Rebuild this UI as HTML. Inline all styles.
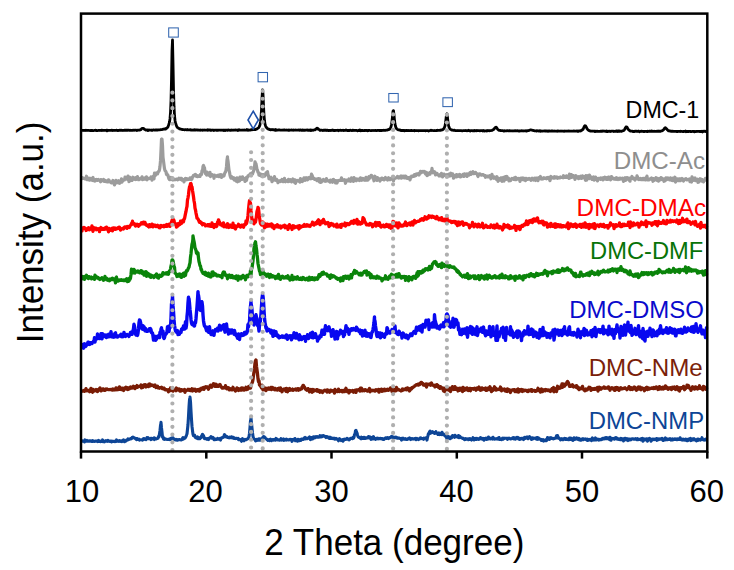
<!DOCTYPE html>
<html><head><meta charset="utf-8"><style>
html,body{margin:0;padding:0;background:#fff;width:734px;height:570px;overflow:hidden}
svg{position:absolute;left:0;top:0}
text{font-family:"Liberation Sans",sans-serif}
</style></head><body>
<svg width="734" height="570" viewBox="0 0 734 570">
<path d="M82.0 130.5L82.5 130.4 83.0 130.4 83.5 130.5 84.0 130.4 84.5 130.5 85.0 130.4 85.5 130.5 86.0 130.1 86.5 130.4 87.0 130.5 87.5 130.4 88.0 130.3 88.5 130.3 89.0 130.4 89.5 130.5 90.0 130.6 90.5 130.6 91.0 130.4 91.5 130.3 92.0 130.5 92.5 130.5 93.0 130.7 93.5 130.6 94.0 130.5 94.5 130.4 95.0 130.4 95.5 130.1 96.0 130.6 96.5 130.5 97.0 130.5 97.5 130.6 98.0 130.5 98.5 130.4 99.0 130.5 99.5 130.4 100.0 130.5 100.5 130.4 101.0 130.5 101.5 130.2 102.0 130.2 102.5 130.3 103.0 130.5 103.5 130.4 104.0 130.3 104.5 130.3 105.0 130.4 105.5 130.4 106.0 130.3 106.5 130.2 107.0 130.8 107.5 130.2 108.0 130.4 108.5 130.5 109.0 130.4 109.5 130.4 110.0 130.4 110.5 130.4 111.0 130.4 111.5 130.2 112.0 130.2 112.5 130.5 113.0 130.4 113.5 130.4 114.0 130.5 114.5 130.4 115.0 130.3 115.5 130.4 116.0 130.3 116.5 130.2 117.0 130.3 117.5 130.5 118.0 130.3 118.5 130.5 119.0 130.4 119.5 130.2 120.0 130.2 120.5 130.2 121.0 130.4 121.5 130.2 122.0 130.3 122.5 130.3 123.0 130.5 123.5 130.4 124.0 130.3 124.5 130.2 125.0 130.3 125.5 130.2 126.0 130.2 126.5 130.3 127.0 130.2 127.5 130.3 128.0 130.2 128.5 130.1 129.0 130.3 129.5 130.4 130.0 130.2 130.5 130.3 131.0 130.4 131.5 130.3 132.0 130.3 132.5 130.3 133.0 130.2 133.5 130.1 134.0 130.4 134.5 130.1 135.0 130.1 135.5 130.2 136.0 130.2 136.5 130.3 137.0 130.6 137.5 130.1 138.0 130.1 138.5 130.2 139.0 130.2 139.5 130.1 140.0 129.9 140.5 129.8 141.0 129.5 141.5 128.9 142.0 128.3 142.5 128.4 143.0 128.3 143.5 128.3 144.0 128.9 144.5 129.3 145.0 129.6 145.5 129.9 146.0 130.1 146.5 130.0 147.0 130.1 147.5 129.9 148.0 130.5 148.5 130.2 149.0 129.9 149.5 130.0 150.0 130.1 150.5 130.1 151.0 130.2 151.5 130.3 152.0 130.1 152.5 130.3 153.0 130.0 153.5 129.8 154.0 130.0 154.5 130.1 155.0 130.0 155.5 130.1 156.0 129.9 156.5 130.0 157.0 130.0 157.5 130.1 158.0 129.9 158.5 129.9 159.0 129.8 159.5 129.8 160.0 129.8 160.5 129.7 161.0 129.7 161.5 129.6 162.0 129.6 162.5 129.5 163.0 129.2 163.5 129.2 164.0 129.0 164.5 129.0 165.0 129.0 165.5 129.1 166.0 128.4 166.5 128.3 167.0 127.9 167.5 127.6 168.0 126.8 168.5 125.4 169.0 124.0 169.5 122.1 170.0 118.7 170.5 112.3 171.0 100.5 171.5 79.5 172.0 51.1 172.4 42.2 172.5 40.0 173.0 62.7 173.5 89.4 174.0 106.2 174.5 115.5 175.0 120.2 175.5 123.0 176.0 124.3 176.5 125.9 177.0 126.9 177.5 127.5 178.0 127.7 178.5 128.2 179.0 128.3 179.5 128.9 180.0 128.9 180.5 129.1 181.0 129.2 181.5 129.3 182.0 129.4 182.5 129.6 183.0 129.6 183.5 129.7 184.0 129.6 184.5 129.9 185.0 129.7 185.5 129.7 186.0 129.7 186.5 129.8 187.0 129.9 187.5 129.5 188.0 129.9 188.5 129.8 189.0 129.9 189.5 129.9 190.0 129.8 190.5 129.6 191.0 130.2 191.5 130.0 192.0 130.1 192.5 130.2 193.0 129.9 193.5 130.2 194.0 129.9 194.5 129.6 195.0 130.1 195.5 130.1 196.0 129.8 196.5 129.8 197.0 130.1 197.5 129.9 198.0 130.2 198.5 130.0 199.0 130.1 199.5 130.1 200.0 130.3 200.5 130.0 201.0 130.2 201.5 130.1 202.0 130.1 202.5 130.3 203.0 130.0 203.5 130.2 204.0 130.1 204.5 130.0 205.0 130.2 205.5 130.2 206.0 130.1 206.5 130.1 207.0 130.2 207.5 129.7 208.0 130.3 208.5 130.1 209.0 129.8 209.5 130.1 210.0 130.2 210.5 130.0 211.0 130.5 211.5 130.1 212.0 130.1 212.5 130.0 213.0 130.1 213.5 130.2 214.0 130.5 214.5 130.1 215.0 130.1 215.5 130.1 216.0 130.2 216.5 130.3 217.0 130.2 217.5 130.2 218.0 130.3 218.5 130.2 219.0 130.2 219.5 130.1 220.0 130.2 220.5 130.1 221.0 130.3 221.5 130.1 222.0 130.1 222.5 130.2 223.0 130.3 223.5 130.5 224.0 130.0 224.5 130.2 225.0 130.5 225.5 130.2 226.0 130.3 226.5 130.1 227.0 130.1 227.5 130.4 228.0 130.0 228.5 130.0 229.0 130.2 229.5 130.1 230.0 130.4 230.5 130.1 231.0 130.3 231.5 130.0 232.0 130.1 232.5 130.1 233.0 130.3 233.5 130.1 234.0 130.0 234.5 130.1 235.0 130.0 235.5 130.0 236.0 130.2 236.5 130.2 237.0 130.0 237.5 130.2 238.0 130.5 238.5 130.0 239.0 129.7 239.5 130.0 240.0 130.1 240.5 130.2 241.0 130.2 241.5 130.1 242.0 130.2 242.5 130.2 243.0 130.0 243.5 130.1 244.0 130.0 244.5 130.0 245.0 130.1 245.5 130.1 246.0 130.0 246.5 130.2 247.0 129.6 247.5 130.0 248.0 130.3 248.5 130.0 249.0 130.0 249.5 130.1 250.0 130.2 250.5 129.9 251.0 129.8 251.5 129.6 252.0 129.8 252.5 129.7 253.0 129.5 253.5 129.7 254.0 129.6 254.5 129.7 255.0 129.3 255.5 129.5 256.0 129.2 256.5 129.1 257.0 128.9 257.5 128.6 258.0 128.1 258.5 127.8 259.0 127.2 259.5 126.2 260.0 124.7 260.5 122.0 261.0 117.6 261.5 109.7 262.0 98.3 262.5 89.8 262.6 90.4 263.0 93.8 263.5 105.4 264.0 114.8 264.5 120.8 265.0 124.0 265.5 125.7 266.0 126.9 266.5 127.5 267.0 128.1 267.5 128.7 268.0 128.9 268.5 129.1 269.0 129.2 269.5 129.6 270.0 129.6 270.5 129.9 271.0 129.5 271.5 129.6 272.0 129.8 272.5 129.7 273.0 129.7 273.5 129.6 274.0 130.1 274.5 130.1 275.0 130.3 275.5 129.6 276.0 130.2 276.5 129.9 277.0 130.0 277.5 130.2 278.0 130.0 278.5 130.0 279.0 129.9 279.5 130.0 280.0 130.0 280.5 130.1 281.0 130.1 281.5 130.1 282.0 130.1 282.5 130.0 283.0 130.1 283.5 130.0 284.0 130.0 284.5 130.0 285.0 130.0 285.5 130.1 286.0 130.1 286.5 130.0 287.0 130.2 287.5 130.1 288.0 130.3 288.5 130.3 289.0 130.0 289.5 130.3 290.0 130.1 290.5 130.1 291.0 130.2 291.5 129.9 292.0 130.0 292.5 130.1 293.0 130.3 293.5 130.0 294.0 130.2 294.5 130.1 295.0 130.2 295.5 130.0 296.0 130.2 296.5 130.2 297.0 130.1 297.5 130.1 298.0 130.2 298.5 129.9 299.0 130.2 299.5 130.3 300.0 129.8 300.5 129.8 301.0 130.3 301.5 130.2 302.0 130.2 302.5 130.3 303.0 130.0 303.5 130.4 304.0 130.2 304.5 130.2 305.0 130.3 305.5 130.2 306.0 130.1 306.5 130.0 307.0 130.2 307.5 129.9 308.0 130.3 308.5 130.1 309.0 130.3 309.5 130.4 310.0 129.9 310.5 129.9 311.0 130.5 311.5 130.2 312.0 130.1 312.5 130.1 313.0 130.4 313.5 130.1 314.0 130.0 314.5 129.8 315.0 129.8 315.5 129.4 316.0 129.2 316.5 128.5 317.0 128.2 317.5 128.3 318.0 128.6 318.5 129.4 319.0 129.5 319.5 129.7 320.0 130.4 320.5 130.3 321.0 130.2 321.5 130.1 322.0 130.3 322.5 130.3 323.0 130.6 323.5 130.1 324.0 130.3 324.5 130.2 325.0 130.2 325.5 130.3 326.0 130.1 326.5 130.5 327.0 130.1 327.5 130.2 328.0 130.4 328.5 130.6 329.0 130.3 329.5 130.5 330.0 130.4 330.5 130.5 331.0 130.5 331.5 130.3 332.0 130.3 332.5 130.0 333.0 130.1 333.5 130.5 334.0 130.3 334.5 130.4 335.0 130.6 335.5 130.3 336.0 130.3 336.5 130.4 337.0 130.3 337.5 130.3 338.0 130.2 338.5 130.7 339.0 130.3 339.5 130.4 340.0 130.3 340.5 130.1 341.0 130.4 341.5 130.5 342.0 130.4 342.5 130.4 343.0 130.1 343.5 130.5 344.0 130.5 344.5 130.3 345.0 130.4 345.5 130.3 346.0 130.0 346.5 130.3 347.0 130.3 347.5 130.6 348.0 130.5 348.5 130.5 349.0 130.7 349.5 130.4 350.0 130.2 350.5 130.2 351.0 130.4 351.5 130.5 352.0 130.7 352.5 130.3 353.0 130.1 353.5 130.5 354.0 130.4 354.5 130.5 355.0 130.4 355.5 130.4 356.0 130.5 356.5 130.4 357.0 130.5 357.5 130.8 358.0 130.5 358.5 130.4 359.0 130.6 359.5 130.1 360.0 130.6 360.5 130.2 361.0 130.8 361.5 130.6 362.0 130.3 362.5 130.5 363.0 130.5 363.5 130.6 364.0 130.5 364.5 130.5 365.0 130.3 365.5 130.5 366.0 130.4 366.5 130.4 367.0 130.6 367.5 130.8 368.0 130.4 368.5 130.5 369.0 130.5 369.5 130.4 370.0 130.5 370.5 130.6 371.0 130.7 371.5 130.5 372.0 130.6 372.5 130.5 373.0 130.4 373.5 130.5 374.0 130.6 374.5 130.5 375.0 130.4 375.5 130.5 376.0 130.4 376.5 130.7 377.0 130.5 377.5 130.4 378.0 130.5 378.5 130.4 379.0 130.5 379.5 130.3 380.0 130.6 380.5 130.4 381.0 130.6 381.5 130.6 382.0 130.4 382.5 130.3 383.0 130.4 383.5 130.3 384.0 130.2 384.5 130.4 385.0 130.3 385.5 130.3 386.0 130.2 386.5 130.2 387.0 130.2 387.5 130.0 388.0 129.7 388.5 129.6 389.0 129.4 389.5 129.3 390.0 128.7 390.5 127.9 391.0 126.7 391.5 124.5 392.0 121.1 392.5 116.5 393.0 111.2 393.3 110.7 393.5 110.6 394.0 114.8 394.5 120.3 395.0 124.1 395.5 126.3 396.0 127.7 396.5 128.7 397.0 129.1 397.5 129.4 398.0 129.7 398.5 129.9 399.0 130.0 399.5 129.8 400.0 130.1 400.5 130.3 401.0 130.6 401.5 130.4 402.0 130.4 402.5 130.6 403.0 130.3 403.5 130.5 404.0 130.5 404.5 130.9 405.0 130.5 405.5 130.7 406.0 130.4 406.5 130.6 407.0 130.5 407.5 130.5 408.0 130.6 408.5 130.5 409.0 130.5 409.5 130.7 410.0 130.7 410.5 130.7 411.0 130.3 411.5 130.4 412.0 130.7 412.5 130.7 413.0 130.7 413.5 130.7 414.0 130.5 414.5 130.8 415.0 130.7 415.5 130.6 416.0 130.5 416.5 130.6 417.0 130.6 417.5 130.7 418.0 130.7 418.5 130.8 419.0 130.7 419.5 130.6 420.0 130.6 420.5 130.6 421.0 130.6 421.5 130.6 422.0 130.7 422.5 130.6 423.0 130.6 423.5 130.7 424.0 130.6 424.5 130.6 425.0 130.7 425.5 130.8 426.0 130.7 426.5 130.7 427.0 130.7 427.5 130.6 428.0 130.8 428.5 131.0 429.0 130.7 429.5 130.7 430.0 130.6 430.5 130.5 431.0 130.2 431.5 130.5 432.0 130.4 432.5 130.5 433.0 130.6 433.5 130.6 434.0 130.7 434.5 130.5 435.0 130.6 435.5 130.6 436.0 130.7 436.5 130.4 437.0 130.5 437.5 130.2 438.0 130.4 438.5 130.4 439.0 130.4 439.5 130.4 440.0 130.1 440.5 130.3 441.0 130.0 441.5 130.1 442.0 129.8 442.5 129.9 443.0 129.5 443.5 128.9 444.0 128.5 444.5 127.2 445.0 126.0 445.5 122.9 446.0 118.6 446.5 114.6 446.8 114.1 447.0 113.8 447.5 117.5 448.0 122.1 448.5 125.4 449.0 127.1 449.5 128.3 450.0 129.1 450.5 129.4 451.0 129.5 451.5 129.9 452.0 130.1 452.5 130.2 453.0 130.2 453.5 130.4 454.0 130.3 454.5 130.1 455.0 130.5 455.5 130.7 456.0 130.7 456.5 130.6 457.0 130.7 457.5 130.7 458.0 130.5 458.5 130.6 459.0 130.7 459.5 130.7 460.0 130.6 460.5 130.6 461.0 130.6 461.5 130.6 462.0 130.9 462.5 130.8 463.0 130.7 463.5 130.7 464.0 130.7 464.5 130.6 465.0 130.6 465.5 130.5 466.0 130.7 466.5 130.7 467.0 130.8 467.5 130.7 468.0 130.7 468.5 130.3 469.0 130.7 469.5 130.8 470.0 130.7 470.5 131.0 471.0 130.6 471.5 130.7 472.0 130.6 472.5 130.8 473.0 130.8 473.5 130.7 474.0 130.8 474.5 130.4 475.0 130.9 475.5 130.6 476.0 130.6 476.5 130.8 477.0 130.4 477.5 130.7 478.0 130.6 478.5 130.7 479.0 130.6 479.5 130.8 480.0 130.8 480.5 130.7 481.0 130.7 481.5 130.7 482.0 130.7 482.5 130.7 483.0 131.0 483.5 130.5 484.0 130.6 484.5 131.1 485.0 130.8 485.5 130.8 486.0 130.8 486.5 130.7 487.0 131.0 487.5 130.8 488.0 130.5 488.5 130.6 489.0 130.8 489.5 130.8 490.0 130.6 490.5 130.6 491.0 130.6 491.5 130.5 492.0 130.4 492.5 129.9 493.0 129.9 493.5 129.6 494.0 129.0 494.5 128.4 495.0 127.8 495.5 127.4 496.0 127.1 496.5 127.6 497.0 128.3 497.5 129.1 498.0 129.5 498.5 130.0 499.0 130.3 499.5 130.4 500.0 130.5 500.5 130.5 501.0 130.7 501.5 130.7 502.0 130.7 502.5 130.7 503.0 130.7 503.5 130.9 504.0 131.1 504.5 130.7 505.0 130.9 505.5 130.9 506.0 130.8 506.5 130.8 507.0 130.7 507.5 130.6 508.0 130.9 508.5 130.9 509.0 130.7 509.5 130.6 510.0 130.8 510.5 130.8 511.0 130.9 511.5 130.8 512.0 130.9 512.5 130.9 513.0 131.0 513.5 130.9 514.0 130.9 514.5 130.8 515.0 130.7 515.5 130.7 516.0 130.9 516.5 130.9 517.0 130.6 517.5 130.8 518.0 130.8 518.5 131.0 519.0 131.0 519.5 130.8 520.0 131.0 520.5 130.8 521.0 130.9 521.5 130.7 522.0 130.8 522.5 130.9 523.0 131.0 523.5 130.8 524.0 130.8 524.5 130.8 525.0 130.8 525.5 130.8 526.0 130.7 526.5 131.2 527.0 131.0 527.5 130.6 528.0 130.7 528.5 130.6 529.0 130.5 529.5 130.2 530.0 130.0 530.5 129.9 531.0 129.9 531.5 130.0 532.0 130.2 532.5 130.3 533.0 130.3 533.5 130.6 534.0 130.6 534.5 130.8 535.0 130.9 535.5 130.8 536.0 131.0 536.5 131.1 537.0 130.7 537.5 130.8 538.0 130.9 538.5 130.9 539.0 131.1 539.5 131.1 540.0 130.7 540.5 131.2 541.0 130.9 541.5 131.0 542.0 131.1 542.5 131.0 543.0 131.1 543.5 131.0 544.0 130.9 544.5 131.0 545.0 130.9 545.5 131.1 546.0 131.1 546.5 130.9 547.0 131.2 547.5 131.0 548.0 131.3 548.5 131.0 549.0 130.8 549.5 131.1 550.0 131.2 550.5 131.2 551.0 131.1 551.5 130.9 552.0 131.1 552.5 131.0 553.0 131.0 553.5 131.2 554.0 131.2 554.5 131.0 555.0 131.1 555.5 131.1 556.0 131.1 556.5 131.1 557.0 131.3 557.5 131.0 558.0 131.0 558.5 131.0 559.0 131.1 559.5 131.2 560.0 131.1 560.5 131.0 561.0 131.1 561.5 131.2 562.0 131.0 562.5 131.1 563.0 131.1 563.5 131.1 564.0 131.4 564.5 131.0 565.0 131.1 565.5 131.1 566.0 131.0 566.5 131.1 567.0 131.1 567.5 131.0 568.0 131.1 568.5 131.1 569.0 130.9 569.5 131.2 570.0 131.1 570.5 131.2 571.0 131.1 571.5 131.2 572.0 131.2 572.5 131.1 573.0 131.2 573.5 131.0 574.0 131.0 574.5 131.2 575.0 131.0 575.5 131.1 576.0 131.1 576.5 131.0 577.0 131.0 577.5 130.9 578.0 131.4 578.5 130.9 579.0 130.9 579.5 131.0 580.0 130.9 580.5 131.0 581.0 130.7 581.5 130.5 582.0 129.9 582.5 129.7 583.0 129.5 583.5 128.3 584.0 127.1 584.5 126.1 585.0 125.7 585.5 125.9 586.0 126.6 586.5 127.5 587.0 128.6 587.5 129.3 588.0 130.0 588.5 130.2 589.0 130.5 589.5 130.8 590.0 130.8 590.5 131.1 591.0 131.1 591.5 131.1 592.0 131.0 592.5 131.1 593.0 131.1 593.5 131.2 594.0 131.1 594.5 131.2 595.0 131.6 595.5 131.2 596.0 131.4 596.5 131.1 597.0 131.4 597.5 131.2 598.0 131.3 598.5 131.3 599.0 131.3 599.5 131.3 600.0 131.4 600.5 131.1 601.0 131.3 601.5 131.2 602.0 131.4 602.5 131.0 603.0 130.9 603.5 131.2 604.0 131.1 604.5 131.2 605.0 131.2 605.5 131.4 606.0 131.3 606.5 130.9 607.0 131.5 607.5 131.5 608.0 131.2 608.5 131.3 609.0 131.4 609.5 131.3 610.0 131.1 610.5 131.5 611.0 131.3 611.5 131.2 612.0 131.2 612.5 131.2 613.0 131.2 613.5 131.2 614.0 131.5 614.5 131.4 615.0 131.2 615.5 131.3 616.0 131.2 616.5 131.3 617.0 130.8 617.5 131.2 618.0 131.5 618.5 131.4 619.0 130.8 619.5 131.2 620.0 131.4 620.5 131.1 621.0 131.2 621.5 131.3 622.0 130.9 622.5 130.9 623.0 130.7 623.5 130.6 624.0 130.3 624.5 129.7 625.0 128.7 625.5 127.7 626.0 126.9 626.5 126.8 627.0 127.2 627.5 128.3 628.0 129.1 628.5 129.7 629.0 130.1 629.5 130.6 630.0 130.7 630.5 131.2 631.0 131.1 631.5 131.2 632.0 131.2 632.5 131.2 633.0 131.5 633.5 131.3 634.0 131.4 634.5 131.6 635.0 131.1 635.5 131.3 636.0 131.1 636.5 131.1 637.0 131.5 637.5 131.4 638.0 131.1 638.5 131.3 639.0 131.2 639.5 131.7 640.0 131.4 640.5 131.4 641.0 131.2 641.5 131.3 642.0 131.2 642.5 131.4 643.0 131.3 643.5 131.4 644.0 131.7 644.5 131.4 645.0 131.3 645.5 131.3 646.0 131.4 646.5 131.3 647.0 131.6 647.5 131.2 648.0 131.5 648.5 131.4 649.0 131.3 649.5 131.1 650.0 131.2 650.5 131.4 651.0 131.3 651.5 131.0 652.0 131.0 652.5 131.4 653.0 131.4 653.5 131.4 654.0 131.2 654.5 131.3 655.0 131.4 655.5 131.3 656.0 131.3 656.5 131.3 657.0 131.2 657.5 131.2 658.0 131.3 658.5 131.2 659.0 131.3 659.5 131.1 660.0 131.4 660.5 131.3 661.0 131.0 661.5 130.9 662.0 130.9 662.5 130.6 663.0 130.2 663.5 129.7 664.0 129.2 664.5 128.3 665.0 127.9 665.5 127.7 666.0 128.4 666.5 128.7 667.0 129.2 667.5 130.0 668.0 130.4 668.5 130.8 669.0 130.9 669.5 131.0 670.0 130.8 670.5 131.2 671.0 131.3 671.5 131.2 672.0 131.4 672.5 131.1 673.0 131.3 673.5 131.3 674.0 131.3 674.5 131.3 675.0 131.4 675.5 131.3 676.0 131.4 676.5 131.4 677.0 131.6 677.5 131.4 678.0 131.5 678.5 131.4 679.0 131.4 679.5 131.5 680.0 131.4 680.5 131.2 681.0 131.5 681.5 131.4 682.0 131.4 682.5 131.5 683.0 131.7 683.5 131.4 684.0 131.5 684.5 131.3 685.0 131.4 685.5 131.0 686.0 131.8 686.5 131.6 687.0 131.4 687.5 131.5 688.0 131.5 688.5 131.5 689.0 131.5 689.5 131.4 690.0 131.5 690.5 131.5 691.0 131.4 691.5 131.7 692.0 131.5 692.5 131.4 693.0 131.3 693.5 131.5 694.0 131.4 694.5 131.8 695.0 131.5 695.5 131.7 696.0 131.4 696.5 131.4 697.0 131.5 697.5 131.4 698.0 131.4 698.5 131.4 699.0 131.4 699.5 131.4 700.0 131.6 700.5 131.5 701.0 131.5 701.5 131.6 702.0 131.3 702.5 131.9 703.0 131.4 703.5 131.1 704.0 131.4 704.5 131.3 705.0 131.1 705.5 131.5 706.0 131.5 706.5 131.5" fill="none" stroke="#000" stroke-width="2.8" stroke-linejoin="round" stroke-linecap="round"/>
<path d="M82.0 178.7L82.5 177.6 83.0 178.4 83.5 178.4 84.0 178.3 84.5 178.7 85.0 179.0 85.5 179.0 86.0 178.4 86.5 176.2 87.0 179.7 87.5 179.6 88.0 179.1 88.5 178.9 89.0 178.2 89.5 180.2 90.0 178.4 90.5 178.4 91.0 179.5 91.5 179.8 92.0 180.2 92.5 178.1 93.0 177.5 93.5 180.7 94.0 179.8 94.5 179.8 95.0 181.1 95.5 179.7 96.0 179.9 96.5 179.4 97.0 179.8 97.5 180.4 98.0 180.3 98.5 179.5 99.0 180.2 99.5 180.6 100.0 180.3 100.5 181.8 101.0 179.5 101.5 180.2 102.0 180.8 102.5 180.7 103.0 180.1 103.5 179.4 104.0 181.3 104.5 181.5 105.0 181.0 105.5 180.5 106.0 181.6 106.5 181.1 107.0 181.8 107.5 181.3 108.0 181.8 108.5 179.8 109.0 180.2 109.5 181.4 110.0 181.9 110.5 182.1 111.0 182.5 111.5 182.9 112.0 181.9 112.5 182.5 113.0 180.5 113.5 181.8 114.0 183.4 114.5 184.9 115.0 181.8 115.5 183.1 116.0 180.4 116.5 182.4 117.0 182.8 117.5 181.8 118.0 181.3 118.5 180.7 119.0 181.6 119.5 183.3 120.0 182.8 120.5 180.9 121.0 181.9 121.5 178.8 122.0 182.2 122.5 180.2 123.0 180.7 123.5 180.2 124.0 179.9 124.5 180.0 125.0 177.2 125.5 178.6 126.0 178.9 126.5 177.7 127.0 177.2 127.5 179.4 128.0 176.2 128.5 178.0 129.0 181.7 129.5 179.6 130.0 177.3 130.5 180.6 131.0 179.2 131.5 179.1 132.0 180.4 132.5 179.6 133.0 177.2 133.5 179.3 134.0 179.2 134.5 179.3 135.0 178.4 135.5 177.7 136.0 179.5 136.5 178.0 137.0 178.9 137.5 176.5 138.0 178.8 138.5 179.6 139.0 178.9 139.5 179.5 140.0 178.6 140.5 178.8 141.0 178.4 141.5 178.0 142.0 176.8 142.5 179.7 143.0 178.7 143.5 179.3 144.0 178.3 144.5 178.0 145.0 178.8 145.5 179.2 146.0 178.9 146.5 176.8 147.0 179.8 147.5 178.7 148.0 178.3 148.5 178.4 149.0 178.7 149.5 178.4 150.0 178.1 150.5 178.2 151.0 177.0 151.5 177.6 152.0 180.1 152.5 176.8 153.0 176.6 153.5 176.0 154.0 178.9 154.5 173.2 155.0 174.1 155.5 175.3 156.0 174.3 156.5 173.0 157.0 174.0 157.5 173.9 158.0 172.5 158.5 171.5 159.0 171.3 159.5 169.7 160.0 166.3 160.5 160.7 161.0 150.5 161.5 139.0 161.7 139.8 162.0 139.2 162.5 145.5 163.0 157.2 163.5 160.9 164.0 165.0 164.5 168.7 165.0 170.7 165.5 171.0 166.0 171.9 166.5 174.5 167.0 173.8 167.5 175.0 168.0 175.5 168.5 177.4 169.0 178.9 169.5 179.7 170.0 179.6 170.5 178.8 171.0 177.4 171.5 178.3 172.0 179.6 172.5 178.4 173.0 180.0 173.5 179.0 174.0 179.0 174.5 179.3 175.0 179.8 175.5 179.6 176.0 179.2 176.5 179.1 177.0 179.2 177.5 179.9 178.0 179.0 178.5 179.3 179.0 178.2 179.5 178.3 180.0 178.4 180.5 179.4 181.0 178.5 181.5 178.3 182.0 180.1 182.5 179.8 183.0 179.4 183.5 179.8 184.0 181.9 184.5 180.2 185.0 179.0 185.5 178.3 186.0 178.6 186.5 178.8 187.0 179.7 187.5 178.9 188.0 179.4 188.5 179.5 189.0 178.9 189.5 179.0 190.0 177.8 190.5 179.4 191.0 178.5 191.5 179.5 192.0 178.9 192.5 176.8 193.0 176.5 193.5 175.4 194.0 175.1 194.5 175.7 195.0 175.7 195.5 174.4 196.0 175.6 196.5 176.4 197.0 176.0 197.5 176.5 198.0 175.8 198.5 176.3 199.0 176.4 199.5 175.8 200.0 176.4 200.5 174.3 201.0 174.7 201.5 174.5 202.0 170.8 202.5 171.4 203.0 166.5 203.5 165.4 203.8 166.7 204.0 167.2 204.5 167.7 205.0 172.0 205.5 173.7 206.0 173.7 206.5 175.0 207.0 172.0 207.5 174.9 208.0 175.0 208.5 174.9 209.0 174.6 209.5 175.5 210.0 172.3 210.5 176.6 211.0 175.1 211.5 174.5 212.0 175.7 212.5 174.8 213.0 175.6 213.5 175.6 214.0 178.3 214.5 175.2 215.0 176.2 215.5 175.9 216.0 175.8 216.5 176.0 217.0 176.3 217.5 175.3 218.0 175.6 218.5 175.1 219.0 176.7 219.5 174.8 220.0 175.9 220.5 175.6 221.0 174.7 221.5 177.4 222.0 176.5 222.5 175.1 223.0 176.0 223.5 176.1 224.0 175.8 224.5 173.9 225.0 172.6 225.5 172.0 226.0 170.3 226.5 166.4 227.0 159.9 227.5 156.8 227.5 158.2 228.0 161.0 228.5 165.6 229.0 170.1 229.5 172.1 230.0 175.3 230.5 176.9 231.0 178.2 231.5 176.6 232.0 177.2 232.5 177.5 233.0 178.8 233.5 177.8 234.0 177.9 234.5 180.1 235.0 178.5 235.5 180.0 236.0 179.4 236.5 181.2 237.0 177.9 237.5 181.8 238.0 180.0 238.5 178.3 239.0 179.2 239.5 181.0 240.0 177.1 240.5 179.2 241.0 179.6 241.5 178.7 242.0 179.4 242.5 176.9 243.0 178.3 243.5 178.5 244.0 178.8 244.5 178.8 245.0 181.5 245.5 178.3 246.0 177.7 246.5 180.4 247.0 177.7 247.5 177.2 248.0 175.8 248.5 176.0 249.0 175.1 249.5 175.0 250.0 175.0 250.5 173.5 251.0 173.5 251.5 173.2 252.0 173.3 252.5 174.0 253.0 172.3 253.5 171.4 254.0 168.7 254.5 166.8 255.0 161.8 255.5 163.5 255.6 163.6 256.0 163.8 256.5 166.5 257.0 169.6 257.5 170.3 258.0 172.5 258.5 172.5 259.0 175.1 259.5 175.3 260.0 175.0 260.5 174.0 261.0 175.8 261.5 174.4 262.0 176.1 262.5 176.1 263.0 174.6 263.5 176.0 264.0 175.7 264.5 176.2 265.0 175.8 265.5 174.8 266.0 172.9 266.5 173.4 267.0 172.5 267.5 171.7 268.0 174.7 268.5 175.7 269.0 178.8 269.5 178.9 270.0 178.3 270.5 177.6 271.0 177.2 271.5 178.9 272.0 181.7 272.5 178.8 273.0 179.7 273.5 178.4 274.0 180.1 274.5 176.7 275.0 179.6 275.5 179.0 276.0 180.4 276.5 179.3 277.0 180.0 277.5 181.0 278.0 182.7 278.5 181.9 279.0 181.0 279.5 180.8 280.0 180.7 280.5 181.5 281.0 181.3 281.5 180.9 282.0 179.4 282.5 180.7 283.0 181.6 283.5 181.7 284.0 180.8 284.5 178.4 285.0 181.0 285.5 181.7 286.0 181.2 286.5 180.7 287.0 180.6 287.5 180.4 288.0 181.7 288.5 179.4 289.0 180.4 289.5 181.2 290.0 179.9 290.5 179.7 291.0 181.5 291.5 181.8 292.0 181.3 292.5 181.1 293.0 179.0 293.5 180.9 294.0 181.1 294.5 182.3 295.0 179.9 295.5 183.3 296.0 180.6 296.5 180.6 297.0 180.4 297.5 180.5 298.0 181.1 298.5 180.7 299.0 181.4 299.5 180.2 300.0 182.1 300.5 178.6 301.0 180.9 301.5 180.5 302.0 179.6 302.5 181.5 303.0 179.2 303.5 179.3 304.0 177.8 304.5 179.4 305.0 180.4 305.5 178.2 306.0 177.8 306.5 179.1 307.0 178.6 307.5 179.8 308.0 177.8 308.5 177.8 309.0 177.4 309.5 178.7 310.0 178.2 310.5 177.3 311.0 178.8 311.5 174.2 312.0 175.2 312.5 176.4 313.0 178.4 313.5 178.0 314.0 178.3 314.5 179.4 315.0 179.4 315.5 179.1 316.0 179.1 316.5 180.0 317.0 180.5 317.5 178.9 318.0 180.0 318.5 178.6 319.0 180.4 319.5 181.9 320.0 178.9 320.5 182.4 321.0 181.0 321.5 182.0 322.0 180.7 322.5 180.9 323.0 180.8 323.5 179.4 324.0 180.4 324.5 181.1 325.0 180.3 325.5 180.4 326.0 181.2 326.5 178.6 327.0 180.7 327.5 180.6 328.0 180.6 328.5 181.1 329.0 180.7 329.5 180.9 330.0 182.2 330.5 180.1 331.0 180.6 331.5 181.2 332.0 181.7 332.5 182.3 333.0 179.6 333.5 179.4 334.0 180.6 334.5 180.5 335.0 180.6 335.5 182.9 336.0 180.5 336.5 180.8 337.0 183.0 337.5 181.7 338.0 180.7 338.5 180.9 339.0 180.4 339.5 180.4 340.0 180.5 340.5 180.0 341.0 180.2 341.5 177.8 342.0 180.5 342.5 180.3 343.0 179.6 343.5 180.3 344.0 180.4 344.5 179.8 345.0 181.1 345.5 183.3 346.0 180.7 346.5 180.1 347.0 180.9 347.5 180.1 348.0 180.3 348.5 180.8 349.0 179.0 349.5 180.5 350.0 180.4 350.5 181.3 351.0 181.1 351.5 177.9 352.0 180.8 352.5 179.6 353.0 180.0 353.5 181.4 354.0 177.7 354.5 178.4 355.0 179.3 355.5 180.4 356.0 180.7 356.5 179.0 357.0 180.1 357.5 179.1 358.0 180.2 358.5 179.1 359.0 180.0 359.5 180.6 360.0 179.2 360.5 177.8 361.0 180.2 361.5 180.3 362.0 179.5 362.5 179.8 363.0 178.4 363.5 179.8 364.0 179.6 364.5 179.7 365.0 180.3 365.5 178.9 366.0 177.3 366.5 178.3 367.0 180.2 367.5 178.3 368.0 180.0 368.5 179.0 369.0 176.7 369.5 178.4 370.0 176.7 370.5 176.4 371.0 175.4 371.5 175.4 372.0 176.2 372.5 176.4 373.0 178.4 373.5 178.6 374.0 180.8 374.5 178.9 375.0 176.2 375.5 178.6 376.0 179.0 376.5 178.8 377.0 180.4 377.5 177.6 378.0 178.1 378.5 179.0 379.0 178.7 379.5 180.1 380.0 181.1 380.5 179.3 381.0 178.7 381.5 178.3 382.0 178.1 382.5 179.3 383.0 178.9 383.5 178.6 384.0 179.9 384.5 179.4 385.0 179.0 385.5 177.5 386.0 179.2 386.5 178.4 387.0 178.5 387.5 180.0 388.0 178.4 388.5 177.7 389.0 179.6 389.5 178.2 390.0 179.4 390.5 179.6 391.0 178.6 391.5 178.1 392.0 178.3 392.5 177.2 393.0 178.7 393.5 180.9 394.0 177.9 394.5 178.7 395.0 178.3 395.5 177.9 396.0 177.7 396.5 177.8 397.0 177.7 397.5 176.4 398.0 177.6 398.5 178.0 399.0 177.2 399.5 177.9 400.0 177.1 400.5 176.5 401.0 176.0 401.5 178.1 402.0 177.3 402.5 177.1 403.0 176.1 403.5 176.2 404.0 177.8 404.5 176.5 405.0 177.9 405.5 176.1 406.0 176.4 406.5 177.6 407.0 178.5 407.5 178.5 408.0 177.7 408.5 177.6 409.0 178.5 409.5 177.3 410.0 179.9 410.5 178.0 411.0 177.6 411.5 176.2 412.0 176.7 412.5 176.1 413.0 176.4 413.5 175.8 414.0 176.2 414.5 174.6 415.0 175.2 415.5 175.8 416.0 175.4 416.5 173.9 417.0 174.5 417.5 174.0 418.0 173.8 418.5 173.6 419.0 175.0 419.5 173.9 420.0 172.8 420.5 171.3 421.0 172.9 421.5 172.2 422.0 172.2 422.5 171.5 423.0 171.8 423.5 171.5 424.0 172.0 424.5 171.4 425.0 172.8 425.5 174.0 426.0 173.3 426.5 172.4 427.0 175.6 427.5 175.1 428.0 174.9 428.5 174.7 429.0 173.3 429.5 172.7 430.0 174.2 430.5 172.6 431.0 171.6 431.5 171.9 432.0 168.4 432.5 171.8 433.0 172.7 433.5 171.9 434.0 172.1 434.5 171.7 435.0 172.4 435.5 174.9 436.0 173.5 436.5 173.5 437.0 173.3 437.5 174.1 438.0 174.8 438.5 175.2 439.0 176.0 439.5 175.4 440.0 174.7 440.5 176.0 441.0 175.9 441.5 173.4 442.0 175.1 442.5 176.9 443.0 176.0 443.5 175.9 444.0 174.1 444.5 175.2 445.0 175.4 445.5 174.9 446.0 175.4 446.5 175.7 447.0 174.6 447.5 174.8 448.0 175.6 448.5 175.2 449.0 176.1 449.5 174.0 450.0 175.2 450.5 175.8 451.0 173.2 451.5 175.2 452.0 175.1 452.5 173.8 453.0 175.2 453.5 178.2 454.0 175.4 454.5 175.4 455.0 176.6 455.5 176.0 456.0 176.8 456.5 174.6 457.0 176.8 457.5 175.9 458.0 174.8 458.5 175.9 459.0 175.3 459.5 176.6 460.0 174.5 460.5 176.9 461.0 175.7 461.5 176.5 462.0 175.8 462.5 175.6 463.0 174.4 463.5 175.5 464.0 176.3 464.5 173.9 465.0 174.3 465.5 175.6 466.0 174.4 466.5 174.0 467.0 176.4 467.5 175.0 468.0 174.0 468.5 175.1 469.0 175.2 469.5 174.0 470.0 172.6 470.5 172.3 471.0 174.4 471.5 173.9 472.0 173.1 472.5 172.7 473.0 171.7 473.5 173.6 474.0 173.7 474.5 172.6 475.0 173.1 475.5 172.4 476.0 173.5 476.5 173.4 477.0 173.9 477.5 175.3 478.0 176.5 478.5 174.1 479.0 175.0 479.5 173.8 480.0 173.8 480.5 174.4 481.0 174.5 481.5 175.2 482.0 175.0 482.5 174.6 483.0 174.5 483.5 175.0 484.0 175.6 484.5 175.5 485.0 175.6 485.5 177.3 486.0 175.9 486.5 176.3 487.0 176.7 487.5 176.3 488.0 176.9 488.5 176.5 489.0 175.9 489.5 175.7 490.0 177.3 490.5 176.4 491.0 178.8 491.5 177.2 492.0 174.4 492.5 177.1 493.0 176.6 493.5 177.6 494.0 178.3 494.5 177.0 495.0 178.2 495.5 177.7 496.0 177.8 496.5 179.4 497.0 176.7 497.5 178.0 498.0 181.3 498.5 179.8 499.0 179.4 499.5 180.1 500.0 178.5 500.5 179.2 501.0 177.9 501.5 177.8 502.0 181.3 502.5 178.5 503.0 178.9 503.5 177.3 504.0 181.1 504.5 177.9 505.0 179.0 505.5 176.5 506.0 179.5 506.5 178.1 507.0 176.5 507.5 178.8 508.0 179.2 508.5 178.2 509.0 180.9 509.5 179.0 510.0 179.8 510.5 180.6 511.0 179.7 511.5 179.2 512.0 178.5 512.5 178.8 513.0 178.5 513.5 179.2 514.0 178.2 514.5 179.3 515.0 179.6 515.5 177.4 516.0 178.2 516.5 179.6 517.0 178.6 517.5 178.6 518.0 178.3 518.5 178.9 519.0 178.4 519.5 179.2 520.0 181.5 520.5 179.0 521.0 178.1 521.5 179.6 522.0 178.1 522.5 178.6 523.0 178.0 523.5 179.8 524.0 178.8 524.5 178.5 525.0 178.4 525.5 180.7 526.0 178.7 526.5 178.4 527.0 178.8 527.5 179.5 528.0 179.5 528.5 178.7 529.0 178.5 529.5 179.2 530.0 179.1 530.5 179.2 531.0 180.3 531.5 178.6 532.0 178.2 532.5 179.6 533.0 178.6 533.5 180.1 534.0 179.1 534.5 178.1 535.0 179.7 535.5 180.5 536.0 178.0 536.5 178.9 537.0 178.2 537.5 178.2 538.0 180.6 538.5 178.5 539.0 177.7 539.5 178.5 540.0 178.7 540.5 176.5 541.0 178.9 541.5 177.9 542.0 179.1 542.5 178.7 543.0 178.8 543.5 178.5 544.0 177.8 544.5 178.3 545.0 178.3 545.5 178.1 546.0 178.1 546.5 178.8 547.0 177.6 547.5 177.7 548.0 177.4 548.5 178.0 549.0 178.9 549.5 177.4 550.0 180.7 550.5 178.2 551.0 176.5 551.5 178.1 552.0 177.3 552.5 177.8 553.0 177.4 553.5 177.2 554.0 178.2 554.5 176.7 555.0 177.0 555.5 177.9 556.0 177.2 556.5 177.8 557.0 177.0 557.5 178.3 558.0 177.9 558.5 177.9 559.0 177.5 559.5 178.0 560.0 177.8 560.5 177.0 561.0 177.3 561.5 177.3 562.0 177.5 562.5 177.4 563.0 177.8 563.5 175.7 564.0 176.5 564.5 177.0 565.0 177.3 565.5 176.9 566.0 177.4 566.5 175.8 567.0 177.4 567.5 176.5 568.0 177.0 568.5 176.1 569.0 178.4 569.5 174.1 570.0 178.0 570.5 177.1 571.0 177.4 571.5 174.5 572.0 176.6 572.5 175.8 573.0 177.2 573.5 175.6 574.0 176.1 574.5 177.0 575.0 179.5 575.5 177.2 576.0 175.7 576.5 176.3 577.0 177.5 577.5 177.3 578.0 178.1 578.5 178.6 579.0 176.7 579.5 178.3 580.0 176.8 580.5 176.3 581.0 178.0 581.5 178.4 582.0 177.5 582.5 175.8 583.0 177.6 583.5 177.3 584.0 177.5 584.5 176.8 585.0 178.8 585.5 180.3 586.0 175.7 586.5 180.2 587.0 176.7 587.5 175.8 588.0 177.1 588.5 177.6 589.0 178.7 589.5 175.0 590.0 177.7 590.5 176.5 591.0 178.2 591.5 177.9 592.0 179.4 592.5 178.1 593.0 177.8 593.5 176.9 594.0 180.1 594.5 177.3 595.0 178.9 595.5 177.1 596.0 177.7 596.5 179.7 597.0 178.7 597.5 181.0 598.0 178.6 598.5 178.4 599.0 178.4 599.5 178.5 600.0 178.1 600.5 179.4 601.0 178.0 601.5 178.5 602.0 178.6 602.5 178.0 603.0 179.9 603.5 177.7 604.0 179.1 604.5 179.0 605.0 177.2 605.5 178.3 606.0 178.8 606.5 179.4 607.0 177.7 607.5 179.5 608.0 179.4 608.5 177.1 609.0 179.1 609.5 177.4 610.0 178.9 610.5 179.8 611.0 179.0 611.5 176.5 612.0 177.8 612.5 178.5 613.0 178.0 613.5 178.4 614.0 179.2 614.5 179.2 615.0 178.5 615.5 178.7 616.0 179.4 616.5 177.7 617.0 178.9 617.5 178.3 618.0 179.5 618.5 179.2 619.0 179.2 619.5 178.3 620.0 179.2 620.5 178.2 621.0 178.9 621.5 178.8 622.0 178.5 622.5 178.2 623.0 179.1 623.5 181.4 624.0 178.7 624.5 178.2 625.0 177.8 625.5 180.5 626.0 179.2 626.5 178.9 627.0 177.7 627.5 179.0 628.0 178.0 628.5 178.9 629.0 180.1 629.5 178.5 630.0 181.2 630.5 177.9 631.0 178.8 631.5 177.7 632.0 176.4 632.5 177.9 633.0 178.7 633.5 178.4 634.0 178.1 634.5 179.1 635.0 180.0 635.5 178.6 636.0 178.8 636.5 178.6 637.0 175.9 637.5 177.1 638.0 178.0 638.5 179.5 639.0 179.6 639.5 179.1 640.0 179.1 640.5 178.4 641.0 179.7 641.5 178.9 642.0 178.9 642.5 179.6 643.0 178.4 643.5 178.4 644.0 179.7 644.5 179.2 645.0 179.5 645.5 179.9 646.0 177.7 646.5 179.2 647.0 176.1 647.5 179.8 648.0 179.0 648.5 179.0 649.0 179.9 649.5 179.2 650.0 179.4 650.5 178.9 651.0 178.3 651.5 177.9 652.0 179.5 652.5 179.2 653.0 181.3 653.5 178.6 654.0 179.5 654.5 180.2 655.0 179.1 655.5 178.9 656.0 177.7 656.5 179.3 657.0 180.2 657.5 178.4 658.0 179.2 658.5 181.1 659.0 179.0 659.5 178.6 660.0 178.5 660.5 179.8 661.0 177.6 661.5 178.1 662.0 178.1 662.5 179.6 663.0 179.2 663.5 179.5 664.0 181.3 664.5 178.9 665.0 180.7 665.5 180.0 666.0 177.9 666.5 178.9 667.0 179.5 667.5 179.1 668.0 178.0 668.5 178.6 669.0 178.6 669.5 179.8 670.0 179.8 670.5 177.9 671.0 180.1 671.5 180.3 672.0 179.5 672.5 178.5 673.0 180.7 673.5 178.2 674.0 180.4 674.5 179.3 675.0 177.2 675.5 182.1 676.0 180.1 676.5 179.5 677.0 179.0 677.5 180.2 678.0 179.0 678.5 180.7 679.0 179.2 679.5 179.3 680.0 178.8 680.5 180.6 681.0 179.9 681.5 179.0 682.0 178.4 682.5 179.8 683.0 180.1 683.5 181.0 684.0 180.2 684.5 179.3 685.0 179.7 685.5 179.4 686.0 178.6 686.5 179.2 687.0 180.0 687.5 179.7 688.0 179.7 688.5 179.6 689.0 179.8 689.5 178.9 690.0 181.6 690.5 179.4 691.0 179.8 691.5 182.0 692.0 176.8 692.5 178.1 693.0 180.4 693.5 179.0 694.0 179.5 694.5 178.5 695.0 178.0 695.5 180.7 696.0 179.1 696.5 179.7 697.0 179.9 697.5 179.3 698.0 182.5 698.5 180.3 699.0 181.9 699.5 179.4 700.0 178.8 700.5 179.9 701.0 179.1 701.5 179.2 702.0 181.0 702.5 179.7 703.0 180.2 703.5 181.9 704.0 179.9 704.5 180.0 705.0 180.1 705.5 178.3 706.0 180.1 706.5 180.0" fill="none" stroke="#9c9c9c" stroke-width="3.2" stroke-linejoin="round" stroke-linecap="round"/>
<path d="M82.0 230.9L82.5 227.8 83.0 228.4 83.5 228.3 84.0 227.5 84.5 228.5 85.0 228.6 85.5 228.2 86.0 230.5 86.5 230.0 87.0 229.2 87.5 229.6 88.0 228.8 88.5 227.8 89.0 229.5 89.5 229.7 90.0 229.0 90.5 228.1 91.0 229.1 91.5 228.8 92.0 225.9 92.5 229.5 93.0 231.3 93.5 228.2 94.0 227.7 94.5 229.2 95.0 229.1 95.5 228.3 96.0 228.1 96.5 229.7 97.0 228.7 97.5 228.9 98.0 228.6 98.5 228.9 99.0 228.8 99.5 231.7 100.0 228.4 100.5 229.4 101.0 227.5 101.5 229.0 102.0 229.4 102.5 229.1 103.0 228.5 103.5 229.4 104.0 229.4 104.5 229.0 105.0 227.9 105.5 229.1 106.0 229.1 106.5 227.2 107.0 228.0 107.5 228.6 108.0 228.7 108.5 231.8 109.0 228.5 109.5 229.4 110.0 230.4 110.5 229.7 111.0 229.2 111.5 228.6 112.0 228.4 112.5 230.8 113.0 228.0 113.5 227.9 114.0 229.0 114.5 229.1 115.0 227.9 115.5 229.4 116.0 228.8 116.5 228.4 117.0 228.8 117.5 228.1 118.0 228.3 118.5 227.4 119.0 228.2 119.5 227.2 120.0 229.1 120.5 230.1 121.0 228.8 121.5 229.0 122.0 228.5 122.5 228.4 123.0 228.3 123.5 228.9 124.0 227.6 124.5 227.1 125.0 227.7 125.5 227.1 126.0 226.9 126.5 227.0 127.0 228.4 127.5 226.5 128.0 226.6 128.5 227.3 129.0 226.5 129.5 227.4 130.0 225.6 130.5 225.3 131.0 224.9 131.5 223.5 132.0 223.9 132.5 221.2 133.0 224.0 133.5 223.3 134.0 223.5 134.5 223.7 135.0 225.4 135.5 226.1 136.0 225.6 136.5 224.4 137.0 224.2 137.5 224.5 138.0 225.3 138.5 226.2 139.0 225.3 139.5 224.5 140.0 225.1 140.5 224.1 141.0 223.9 141.5 222.7 142.0 223.7 142.5 223.1 143.0 223.8 143.5 222.1 144.0 222.6 144.5 224.0 145.0 222.4 145.5 224.4 146.0 224.2 146.5 225.3 147.0 225.3 147.5 225.2 148.0 226.2 148.5 226.0 149.0 226.9 149.5 224.6 150.0 225.6 150.5 226.5 151.0 226.5 151.5 226.0 152.0 224.1 152.5 224.8 153.0 226.8 153.5 224.9 154.0 225.3 154.5 225.2 155.0 226.0 155.5 225.3 156.0 226.6 156.5 225.9 157.0 225.7 157.5 225.3 158.0 226.5 158.5 225.9 159.0 227.6 159.5 226.0 160.0 227.8 160.5 226.2 161.0 225.4 161.5 226.2 162.0 226.5 162.5 226.4 163.0 226.3 163.5 225.6 164.0 226.8 164.5 225.8 165.0 225.4 165.5 225.1 166.0 226.4 166.5 225.3 167.0 224.6 167.5 226.2 168.0 225.8 168.5 224.9 169.0 224.3 169.5 224.7 170.0 226.4 170.5 224.2 171.0 223.5 171.5 221.9 172.0 220.4 172.5 220.0 173.0 218.7 173.5 223.0 174.0 220.3 174.5 223.5 175.0 223.5 175.5 224.5 176.0 224.7 176.5 227.1 177.0 223.8 177.5 225.4 178.0 225.9 178.5 223.7 179.0 224.1 179.5 223.7 180.0 224.4 180.5 221.2 181.0 222.6 181.5 223.3 182.0 221.1 182.5 220.6 183.0 221.1 183.5 221.8 184.0 219.0 184.5 218.7 185.0 216.1 185.5 213.6 186.0 211.4 186.5 208.4 187.0 206.3 187.5 199.9 188.0 197.8 188.5 194.7 189.0 190.0 189.5 187.0 190.0 185.8 190.5 183.7 190.7 183.8 191.0 183.6 191.5 186.3 192.0 186.8 192.5 190.4 193.0 193.4 193.5 196.7 194.0 200.7 194.5 203.2 195.0 208.1 195.5 210.0 196.0 213.1 196.5 215.3 197.0 218.1 197.5 218.4 198.0 218.9 198.5 219.9 199.0 221.2 199.5 222.3 200.0 221.4 200.5 222.0 201.0 222.4 201.5 223.6 202.0 223.1 202.5 224.8 203.0 224.2 203.5 223.7 204.0 223.9 204.5 224.1 205.0 225.0 205.5 225.8 206.0 225.3 206.5 225.7 207.0 225.5 207.5 224.7 208.0 225.7 208.5 224.6 209.0 224.5 209.5 226.0 210.0 225.0 210.5 224.7 211.0 226.3 211.5 226.0 212.0 222.9 212.5 226.4 213.0 225.9 213.5 226.4 214.0 227.5 214.5 224.6 215.0 226.2 215.5 224.8 216.0 225.3 216.5 226.5 217.0 225.6 217.5 222.2 218.0 222.7 218.5 219.8 219.0 220.9 219.5 221.9 220.0 223.9 220.5 224.8 221.0 223.8 221.5 224.0 222.0 223.7 222.5 225.8 223.0 225.6 223.5 222.9 224.0 226.8 224.5 225.0 225.0 226.1 225.5 226.2 226.0 225.4 226.5 227.1 227.0 224.5 227.5 223.7 228.0 227.1 228.5 226.5 229.0 227.4 229.5 225.5 230.0 225.1 230.5 226.8 231.0 226.2 231.5 227.2 232.0 227.3 232.5 225.8 233.0 223.2 233.5 227.5 234.0 225.4 234.5 225.7 235.0 226.2 235.5 229.0 236.0 226.2 236.5 226.3 237.0 226.6 237.5 226.0 238.0 225.8 238.5 224.2 239.0 225.7 239.5 226.5 240.0 226.6 240.5 227.1 241.0 226.1 241.5 225.1 242.0 225.7 242.5 225.5 243.0 225.9 243.5 227.3 244.0 224.9 244.5 224.4 245.0 225.0 245.5 224.6 246.0 220.9 246.5 223.7 247.0 221.4 247.5 219.2 248.0 215.4 248.5 209.4 249.0 204.7 249.5 200.6 249.7 201.5 250.0 202.8 250.5 203.0 251.0 210.7 251.5 215.4 252.0 219.9 252.5 221.0 253.0 222.3 253.5 220.0 254.0 223.8 254.5 222.0 255.0 221.5 255.5 222.0 256.0 219.4 256.5 215.5 257.0 211.3 257.5 209.8 257.9 208.2 258.0 207.3 258.5 208.5 259.0 213.2 259.5 217.6 260.0 220.7 260.5 223.6 261.0 224.3 261.5 224.9 262.0 225.1 262.5 224.1 263.0 222.0 263.5 224.5 264.0 226.0 264.5 227.8 265.0 226.0 265.5 223.9 266.0 226.0 266.5 226.5 267.0 225.8 267.5 224.1 268.0 226.0 268.5 226.0 269.0 225.3 269.5 226.0 270.0 224.5 270.5 225.6 271.0 225.7 271.5 223.9 272.0 227.0 272.5 225.7 273.0 225.1 273.5 227.0 274.0 228.6 274.5 226.7 275.0 226.4 275.5 225.9 276.0 225.5 276.5 226.7 277.0 226.4 277.5 224.8 278.0 226.2 278.5 227.1 279.0 227.1 279.5 226.4 280.0 227.0 280.5 226.1 281.0 228.0 281.5 227.1 282.0 227.0 282.5 226.0 283.0 225.9 283.5 225.7 284.0 225.9 284.5 225.2 285.0 227.8 285.5 226.4 286.0 226.5 286.5 226.1 287.0 226.2 287.5 227.8 288.0 229.4 288.5 227.0 289.0 227.0 289.5 224.7 290.0 227.3 290.5 226.1 291.0 227.0 291.5 227.0 292.0 229.5 292.5 226.8 293.0 225.7 293.5 226.4 294.0 226.0 294.5 227.8 295.0 226.6 295.5 227.1 296.0 227.0 296.5 226.7 297.0 227.2 297.5 226.1 298.0 227.7 298.5 228.0 299.0 228.9 299.5 225.6 300.0 226.6 300.5 226.7 301.0 227.3 301.5 226.8 302.0 226.2 302.5 226.3 303.0 226.1 303.5 225.3 304.0 226.3 304.5 224.5 305.0 226.0 305.5 225.8 306.0 226.2 306.5 225.8 307.0 224.7 307.5 224.9 308.0 225.2 308.5 226.1 309.0 225.7 309.5 225.7 310.0 226.4 310.5 225.1 311.0 224.9 311.5 224.7 312.0 224.5 312.5 222.1 313.0 224.0 313.5 223.8 314.0 225.1 314.5 223.5 315.0 223.5 315.5 222.8 316.0 224.0 316.5 223.6 317.0 223.6 317.5 220.9 318.0 220.6 318.5 219.8 319.0 223.3 319.5 222.3 320.0 224.7 320.5 221.5 321.0 221.3 321.5 222.4 322.0 220.9 322.5 222.9 323.0 221.4 323.5 219.4 324.0 222.0 324.5 221.4 325.0 222.1 325.5 223.7 326.0 223.3 326.5 223.0 327.0 223.6 327.5 223.2 328.0 222.6 328.5 223.1 329.0 226.5 329.5 224.1 330.0 225.7 330.5 224.0 331.0 224.8 331.5 223.5 332.0 224.3 332.5 224.1 333.0 224.2 333.5 225.5 334.0 226.0 334.5 225.6 335.0 225.4 335.5 225.7 336.0 224.6 336.5 227.0 337.0 224.2 337.5 227.0 338.0 225.8 338.5 226.9 339.0 226.8 339.5 226.6 340.0 225.5 340.5 224.7 341.0 227.4 341.5 224.4 342.0 224.1 342.5 224.8 343.0 225.0 343.5 224.5 344.0 225.0 344.5 225.5 345.0 223.0 345.5 226.0 346.0 224.4 346.5 224.0 347.0 223.5 347.5 223.7 348.0 224.6 348.5 223.9 349.0 224.6 349.5 224.3 350.0 223.4 350.5 222.6 351.0 223.2 351.5 221.4 352.0 222.7 352.5 222.8 353.0 222.6 353.5 223.4 354.0 220.4 354.5 221.5 355.0 221.9 355.5 222.8 356.0 222.4 356.5 223.0 357.0 219.5 357.5 224.1 358.0 223.5 358.5 221.4 359.0 223.9 359.5 222.0 360.0 222.8 360.5 224.0 361.0 223.2 361.5 222.5 362.0 223.4 362.5 221.8 363.0 217.6 363.5 218.4 364.0 218.7 364.5 220.5 365.0 222.4 365.5 222.5 366.0 223.7 366.5 224.8 367.0 224.3 367.5 224.3 368.0 224.8 368.5 224.5 369.0 225.0 369.5 224.3 370.0 223.5 370.5 224.4 371.0 223.9 371.5 223.9 372.0 225.2 372.5 226.8 373.0 224.6 373.5 224.7 374.0 225.0 374.5 225.1 375.0 223.7 375.5 222.4 376.0 226.2 376.5 225.4 377.0 223.8 377.5 225.0 378.0 222.6 378.5 225.2 379.0 225.4 379.5 222.7 380.0 225.5 380.5 226.4 381.0 227.1 381.5 226.5 382.0 225.6 382.5 226.2 383.0 225.8 383.5 225.1 384.0 225.9 384.5 226.9 385.0 226.8 385.5 225.7 386.0 225.8 386.5 224.4 387.0 226.3 387.5 225.5 388.0 225.7 388.5 225.0 389.0 227.2 389.5 225.0 390.0 226.0 390.5 225.1 391.0 228.4 391.5 224.9 392.0 228.0 392.5 224.4 393.0 221.5 393.5 222.1 394.0 222.0 394.5 225.2 395.0 225.8 395.5 225.4 396.0 226.0 396.5 224.4 397.0 223.0 397.5 225.3 398.0 227.9 398.5 226.4 399.0 223.0 399.5 223.9 400.0 225.6 400.5 225.5 401.0 226.0 401.5 225.2 402.0 225.4 402.5 226.0 403.0 225.3 403.5 225.7 404.0 224.4 404.5 224.8 405.0 223.3 405.5 222.0 406.0 224.4 406.5 225.5 407.0 225.5 407.5 224.3 408.0 223.7 408.5 224.2 409.0 224.0 409.5 223.0 410.0 223.7 410.5 225.1 411.0 223.2 411.5 222.3 412.0 222.0 412.5 221.9 413.0 225.0 413.5 222.3 414.0 222.2 414.5 220.4 415.0 222.0 415.5 222.8 416.0 222.2 416.5 221.7 417.0 221.4 417.5 221.5 418.0 221.1 418.5 221.3 419.0 221.3 419.5 220.7 420.0 220.6 420.5 219.4 421.0 220.2 421.5 219.9 422.0 218.7 422.5 219.7 423.0 219.4 423.5 220.2 424.0 218.5 424.5 218.7 425.0 216.8 425.5 218.6 426.0 218.7 426.5 219.1 427.0 218.7 427.5 217.2 428.0 218.1 428.5 217.9 429.0 215.8 429.5 216.3 430.0 216.2 430.5 216.1 431.0 216.9 431.5 217.5 432.0 216.1 432.5 216.7 433.0 216.5 433.5 217.2 434.0 216.8 434.5 217.0 435.0 217.2 435.5 218.5 436.0 218.0 436.5 218.4 437.0 216.5 437.5 218.9 438.0 218.6 438.5 218.3 439.0 219.8 439.5 218.4 440.0 218.8 440.5 219.8 441.0 218.6 441.5 217.6 442.0 218.7 442.5 220.5 443.0 219.3 443.5 220.1 444.0 220.7 444.5 219.3 445.0 220.7 445.5 220.9 446.0 221.1 446.5 222.0 447.0 217.9 447.5 220.8 448.0 220.8 448.5 221.4 449.0 221.1 449.5 220.8 450.0 221.0 450.5 221.2 451.0 221.9 451.5 222.6 452.0 221.4 452.5 222.4 453.0 221.9 453.5 221.5 454.0 221.5 454.5 222.1 455.0 221.5 455.5 222.8 456.0 223.8 456.5 222.0 457.0 222.8 457.5 225.7 458.0 223.8 458.5 222.0 459.0 223.4 459.5 224.9 460.0 222.3 460.5 223.0 461.0 223.4 461.5 222.8 462.0 221.9 462.5 221.9 463.0 224.1 463.5 225.2 464.0 224.5 464.5 224.6 465.0 223.5 465.5 223.8 466.0 223.4 466.5 223.7 467.0 224.0 467.5 224.6 468.0 224.9 468.5 225.2 469.0 224.9 469.5 227.8 470.0 225.5 470.5 226.5 471.0 225.6 471.5 225.8 472.0 225.0 472.5 222.3 473.0 225.6 473.5 224.8 474.0 226.8 474.5 225.9 475.0 225.5 475.5 224.3 476.0 225.8 476.5 224.7 477.0 226.0 477.5 226.9 478.0 226.4 478.5 224.2 479.0 224.3 479.5 226.3 480.0 226.9 480.5 226.7 481.0 226.0 481.5 226.1 482.0 225.5 482.5 223.3 483.0 226.5 483.5 227.9 484.0 226.0 484.5 227.2 485.0 226.0 485.5 226.4 486.0 225.3 486.5 226.4 487.0 226.3 487.5 227.4 488.0 226.8 488.5 227.0 489.0 226.9 489.5 227.1 490.0 227.5 490.5 226.8 491.0 224.9 491.5 226.4 492.0 226.8 492.5 225.9 493.0 227.6 493.5 227.5 494.0 225.1 494.5 228.1 495.0 226.0 495.5 227.7 496.0 226.1 496.5 227.0 497.0 224.2 497.5 225.7 498.0 226.2 498.5 227.7 499.0 227.3 499.5 228.0 500.0 226.5 500.5 227.8 501.0 227.1 501.5 227.2 502.0 227.7 502.5 230.0 503.0 227.4 503.5 228.2 504.0 224.3 504.5 227.0 505.0 226.9 505.5 226.6 506.0 225.6 506.5 226.8 507.0 226.0 507.5 226.6 508.0 225.0 508.5 227.8 509.0 225.7 509.5 226.4 510.0 228.5 510.5 227.2 511.0 227.1 511.5 228.1 512.0 227.5 512.5 227.8 513.0 227.4 513.5 227.0 514.0 227.5 514.5 225.4 515.0 227.2 515.5 227.5 516.0 230.4 516.5 227.1 517.0 226.5 517.5 228.2 518.0 228.0 518.5 227.0 519.0 226.5 519.5 229.0 520.0 229.6 520.5 227.8 521.0 226.2 521.5 226.7 522.0 225.4 522.5 225.8 523.0 226.2 523.5 225.3 524.0 224.6 524.5 224.4 525.0 223.7 525.5 224.7 526.0 223.8 526.5 220.8 527.0 223.1 527.5 222.6 528.0 224.5 528.5 221.9 529.0 222.7 529.5 220.8 530.0 221.7 530.5 222.0 531.0 220.4 531.5 221.3 532.0 220.9 532.5 222.6 533.0 219.4 533.5 219.1 534.0 220.2 534.5 219.1 535.0 221.1 535.5 219.1 536.0 220.5 536.5 220.6 537.0 220.9 537.5 217.9 538.0 220.7 538.5 221.5 539.0 222.8 539.5 222.6 540.0 221.6 540.5 222.4 541.0 221.8 541.5 222.7 542.0 221.3 542.5 221.7 543.0 221.2 543.5 224.6 544.0 225.0 544.5 222.7 545.0 222.7 545.5 223.6 546.0 222.9 546.5 222.8 547.0 224.4 547.5 227.2 548.0 226.2 548.5 226.0 549.0 226.0 549.5 224.2 550.0 224.2 550.5 226.6 551.0 223.3 551.5 226.1 552.0 225.5 552.5 226.2 553.0 225.8 553.5 226.3 554.0 224.9 554.5 224.1 555.0 227.3 555.5 223.8 556.0 225.5 556.5 227.0 557.0 225.9 557.5 224.6 558.0 224.8 558.5 226.0 559.0 225.1 559.5 226.7 560.0 225.0 560.5 224.8 561.0 225.2 561.5 227.0 562.0 226.0 562.5 225.7 563.0 226.8 563.5 225.6 564.0 226.3 564.5 226.1 565.0 226.5 565.5 226.0 566.0 226.8 566.5 226.4 567.0 224.5 567.5 226.5 568.0 222.8 568.5 228.6 569.0 226.0 569.5 225.7 570.0 227.0 570.5 225.4 571.0 224.0 571.5 225.2 572.0 224.7 572.5 225.9 573.0 226.7 573.5 226.7 574.0 224.7 574.5 226.0 575.0 225.5 575.5 224.0 576.0 226.1 576.5 227.3 577.0 225.0 577.5 225.3 578.0 225.2 578.5 225.5 579.0 225.3 579.5 226.3 580.0 224.5 580.5 224.5 581.0 225.1 581.5 227.3 582.0 225.2 582.5 224.1 583.0 226.5 583.5 225.7 584.0 227.0 584.5 225.6 585.0 222.8 585.5 223.9 586.0 227.3 586.5 224.4 587.0 225.9 587.5 225.8 588.0 225.0 588.5 226.1 589.0 228.6 589.5 224.5 590.0 224.9 590.5 226.3 591.0 224.9 591.5 227.0 592.0 225.5 592.5 225.3 593.0 224.1 593.5 225.2 594.0 228.2 594.5 223.6 595.0 228.6 595.5 226.6 596.0 226.6 596.5 225.1 597.0 225.2 597.5 225.0 598.0 225.3 598.5 225.1 599.0 226.6 599.5 225.6 600.0 225.8 600.5 224.4 601.0 225.5 601.5 225.3 602.0 226.2 602.5 224.9 603.0 226.3 603.5 224.4 604.0 225.8 604.5 227.1 605.0 225.5 605.5 226.1 606.0 225.9 606.5 225.6 607.0 225.8 607.5 225.8 608.0 228.2 608.5 225.4 609.0 225.8 609.5 226.2 610.0 225.3 610.5 222.8 611.0 224.6 611.5 224.9 612.0 224.9 612.5 225.1 613.0 225.4 613.5 224.7 614.0 228.6 614.5 225.8 615.0 225.7 615.5 226.8 616.0 224.7 616.5 225.4 617.0 225.4 617.5 226.0 618.0 225.5 618.5 224.9 619.0 224.7 619.5 222.9 620.0 225.9 620.5 226.6 621.0 224.9 621.5 224.7 622.0 226.5 622.5 225.4 623.0 224.3 623.5 225.6 624.0 224.8 624.5 224.3 625.0 225.5 625.5 225.4 626.0 225.5 626.5 225.4 627.0 224.6 627.5 224.8 628.0 225.3 628.5 222.1 629.0 222.1 629.5 223.0 630.0 227.5 630.5 222.0 631.0 224.9 631.5 224.6 632.0 225.5 632.5 225.8 633.0 224.6 633.5 222.9 634.0 224.9 634.5 225.0 635.0 223.9 635.5 224.8 636.0 224.1 636.5 224.0 637.0 224.5 637.5 223.1 638.0 224.0 638.5 223.9 639.0 227.2 639.5 223.8 640.0 224.4 640.5 225.2 641.0 223.0 641.5 222.1 642.0 222.9 642.5 223.4 643.0 224.3 643.5 223.6 644.0 224.6 644.5 222.8 645.0 224.0 645.5 223.3 646.0 220.8 646.5 226.5 647.0 222.6 647.5 223.3 648.0 223.4 648.5 222.6 649.0 223.1 649.5 223.1 650.0 222.9 650.5 223.0 651.0 223.7 651.5 223.6 652.0 225.2 652.5 222.8 653.0 223.3 653.5 223.3 654.0 224.0 654.5 223.0 655.0 221.7 655.5 223.1 656.0 221.6 656.5 224.7 657.0 223.2 657.5 225.8 658.0 223.3 658.5 221.4 659.0 222.4 659.5 222.9 660.0 223.4 660.5 223.3 661.0 222.4 661.5 223.3 662.0 222.9 662.5 222.2 663.0 222.2 663.5 220.5 664.0 223.3 664.5 222.4 665.0 223.2 665.5 223.8 666.0 223.4 666.5 223.7 667.0 220.3 667.5 222.3 668.0 221.9 668.5 221.7 669.0 222.2 669.5 221.0 670.0 221.5 670.5 220.3 671.0 222.0 671.5 220.8 672.0 220.9 672.5 220.6 673.0 221.2 673.5 221.5 674.0 220.8 674.5 220.8 675.0 221.0 675.5 221.4 676.0 221.9 676.5 221.4 677.0 220.0 677.5 222.3 678.0 221.8 678.5 223.6 679.0 221.4 679.5 220.5 680.0 223.4 680.5 221.7 681.0 221.3 681.5 222.2 682.0 220.3 682.5 218.3 683.0 221.0 683.5 221.7 684.0 221.2 684.5 221.6 685.0 221.2 685.5 220.3 686.0 221.5 686.5 221.8 687.0 219.2 687.5 222.7 688.0 222.3 688.5 222.6 689.0 222.2 689.5 221.6 690.0 222.7 690.5 222.6 691.0 224.2 691.5 223.3 692.0 223.1 692.5 222.9 693.0 221.9 693.5 223.1 694.0 223.0 694.5 222.4 695.0 224.8 695.5 221.5 696.0 224.1 696.5 224.4 697.0 225.1 697.5 226.3 698.0 225.1 698.5 226.1 699.0 225.6 699.5 224.3 700.0 223.9 700.5 228.2 701.0 222.5 701.5 226.7 702.0 226.4 702.5 226.5 703.0 226.5 703.5 225.6 704.0 226.4 704.5 225.6 705.0 225.2 705.5 226.9 706.0 227.4 706.5 226.5" fill="none" stroke="#ff0000" stroke-width="3.3" stroke-linejoin="round" stroke-linecap="round"/>
<path d="M82.0 276.5L82.5 278.7 83.0 276.6 83.5 277.3 84.0 277.4 84.5 279.4 85.0 276.5 85.5 277.3 86.0 277.3 86.5 275.3 87.0 276.6 87.5 278.0 88.0 276.8 88.5 278.6 89.0 276.7 89.5 277.6 90.0 277.4 90.5 277.4 91.0 277.1 91.5 278.9 92.0 278.3 92.5 278.0 93.0 277.4 93.5 277.4 94.0 277.4 94.5 279.4 95.0 275.1 95.5 278.0 96.0 277.5 96.5 277.8 97.0 276.9 97.5 277.8 98.0 277.4 98.5 278.7 99.0 278.2 99.5 278.6 100.0 279.4 100.5 278.5 101.0 278.5 101.5 278.7 102.0 277.8 102.5 278.6 103.0 278.7 103.5 280.2 104.0 279.7 104.5 279.8 105.0 276.4 105.5 278.4 106.0 278.9 106.5 278.2 107.0 279.4 107.5 280.2 108.0 279.5 108.5 279.5 109.0 279.2 109.5 280.8 110.0 279.2 110.5 279.2 111.0 279.7 111.5 278.8 112.0 279.5 112.5 278.3 113.0 279.5 113.5 278.8 114.0 279.3 114.5 280.4 115.0 279.8 115.5 282.9 116.0 277.8 116.5 277.1 117.0 281.0 117.5 279.8 118.0 280.3 118.5 280.9 119.0 280.0 119.5 280.3 120.0 280.4 120.5 279.9 121.0 280.2 121.5 279.7 122.0 280.3 122.5 280.3 123.0 280.1 123.5 280.6 124.0 280.0 124.5 280.5 125.0 280.6 125.5 280.2 126.0 279.3 126.5 278.8 127.0 280.8 127.5 281.6 128.0 278.8 128.5 281.4 129.0 280.9 129.5 278.1 130.0 279.2 130.5 278.1 131.0 274.4 131.5 269.2 132.0 270.1 132.5 270.3 133.0 270.3 133.5 272.9 134.0 269.4 134.5 272.1 135.0 273.0 135.5 272.1 136.0 271.2 136.5 271.4 137.0 271.8 137.5 272.1 138.0 270.9 138.5 272.2 139.0 272.2 139.5 272.9 140.0 272.8 140.5 272.4 141.0 270.7 141.5 271.5 142.0 270.9 142.5 273.7 143.0 272.4 143.5 273.6 144.0 275.1 144.5 272.2 145.0 272.9 145.5 272.5 146.0 271.7 146.5 276.3 147.0 272.6 147.5 273.7 148.0 273.8 148.5 275.9 149.0 274.0 149.5 275.2 150.0 276.7 150.5 275.1 151.0 277.3 151.5 275.3 152.0 276.0 152.5 276.3 153.0 276.4 153.5 277.0 154.0 277.6 154.5 275.8 155.0 276.0 155.5 275.7 156.0 274.7 156.5 273.9 157.0 275.7 157.5 277.5 158.0 277.8 158.5 278.1 159.0 275.5 159.5 275.1 160.0 275.3 160.5 276.0 161.0 276.3 161.5 276.0 162.0 275.8 162.5 274.2 163.0 272.6 163.5 274.2 164.0 273.3 164.5 273.6 165.0 273.9 165.5 273.3 166.0 273.6 166.5 272.8 167.0 274.1 167.5 273.3 168.0 272.6 168.5 274.2 169.0 271.8 169.5 270.9 170.0 271.5 170.5 269.1 171.0 266.1 171.5 264.1 172.0 260.1 172.5 259.9 172.6 259.9 173.0 260.7 173.5 263.2 174.0 266.4 174.5 267.1 175.0 273.2 175.5 273.3 176.0 273.9 176.5 274.7 177.0 276.5 177.5 274.7 178.0 276.0 178.5 275.8 179.0 276.1 179.5 274.0 180.0 275.0 180.5 274.3 181.0 277.2 181.5 277.4 182.0 275.8 182.5 274.2 183.0 273.9 183.5 273.2 184.0 276.3 184.5 272.9 185.0 273.1 185.5 275.3 186.0 272.2 186.5 270.6 187.0 271.1 187.5 270.5 188.0 269.1 188.5 267.8 189.0 267.2 189.5 264.6 190.0 262.9 190.5 257.2 191.0 253.7 191.5 248.4 192.0 244.2 192.5 242.6 192.9 239.2 193.0 235.9 193.5 239.2 194.0 241.3 194.5 244.1 195.0 247.9 195.5 249.0 196.0 250.5 196.5 253.2 197.0 251.9 197.5 253.3 197.5 254.2 198.0 253.0 198.5 258.1 199.0 261.5 199.5 263.3 200.0 265.6 200.5 266.0 201.0 269.6 201.5 269.4 202.0 271.6 202.5 272.3 203.0 273.3 203.5 273.6 204.0 272.7 204.5 273.4 205.0 274.5 205.5 272.3 206.0 274.2 206.5 275.4 207.0 275.2 207.5 275.3 208.0 275.9 208.5 273.2 209.0 274.8 209.5 276.5 210.0 276.7 210.5 274.5 211.0 277.0 211.5 275.6 212.0 272.2 212.5 274.1 213.0 271.8 213.5 275.5 214.0 274.5 214.5 273.4 215.0 273.9 215.5 274.7 216.0 274.3 216.5 275.8 217.0 276.0 217.5 275.2 218.0 275.8 218.5 275.5 219.0 275.5 219.5 275.6 220.0 276.3 220.5 276.2 221.0 275.8 221.5 276.4 222.0 277.8 222.5 274.2 223.0 272.7 223.5 272.0 224.0 272.5 224.5 272.3 225.0 274.2 225.5 275.4 226.0 275.5 226.5 274.9 227.0 276.2 227.5 278.8 228.0 276.3 228.5 276.6 229.0 277.1 229.5 275.0 230.0 277.1 230.5 276.8 231.0 277.4 231.5 276.4 232.0 275.5 232.5 276.9 233.0 277.8 233.5 277.9 234.0 277.0 234.5 278.0 235.0 278.1 235.5 276.4 236.0 278.7 236.5 275.8 237.0 278.8 237.5 278.1 238.0 280.2 238.5 276.1 239.0 278.1 239.5 278.3 240.0 277.7 240.5 277.2 241.0 278.9 241.5 276.4 242.0 277.1 242.5 277.5 243.0 275.4 243.5 276.8 244.0 277.3 244.5 276.4 245.0 278.0 245.5 279.7 246.0 276.2 246.5 277.4 247.0 275.4 247.5 276.9 248.0 276.8 248.5 276.4 249.0 274.6 249.5 275.4 250.0 274.8 250.5 270.5 251.0 275.0 251.5 269.4 252.0 267.7 252.5 264.3 253.0 260.7 253.5 255.7 254.0 248.2 254.5 246.1 255.0 242.8 255.3 242.7 255.5 241.8 256.0 246.1 256.5 249.0 257.0 254.2 257.5 258.2 258.0 263.5 258.5 266.0 259.0 268.4 259.5 271.0 260.0 272.0 260.5 274.6 261.0 272.7 261.5 273.1 262.0 274.0 262.5 272.7 263.0 271.0 263.5 273.5 264.0 273.9 264.5 273.4 265.0 274.8 265.5 275.0 266.0 274.2 266.5 276.2 267.0 275.7 267.5 275.1 268.0 274.1 268.5 274.8 269.0 277.0 269.5 277.4 270.0 275.3 270.5 274.4 271.0 275.5 271.5 275.7 272.0 277.0 272.5 275.6 273.0 275.9 273.5 276.9 274.0 276.7 274.5 276.5 275.0 276.8 275.5 278.6 276.0 277.0 276.5 276.3 277.0 276.7 277.5 276.1 278.0 278.0 278.5 274.4 279.0 276.1 279.5 277.3 280.0 279.2 280.5 279.3 281.0 278.5 281.5 276.8 282.0 277.4 282.5 276.2 283.0 276.6 283.5 276.9 284.0 278.0 284.5 277.6 285.0 277.8 285.5 277.9 286.0 276.6 286.5 277.1 287.0 277.7 287.5 278.0 288.0 275.8 288.5 277.9 289.0 278.7 289.5 277.7 290.0 280.1 290.5 278.3 291.0 279.5 291.5 278.5 292.0 275.5 292.5 279.0 293.0 279.7 293.5 278.2 294.0 279.0 294.5 278.1 295.0 277.3 295.5 278.7 296.0 279.0 296.5 279.1 297.0 277.9 297.5 276.8 298.0 278.3 298.5 278.8 299.0 279.3 299.5 279.2 300.0 279.3 300.5 278.8 301.0 277.9 301.5 279.5 302.0 279.5 302.5 278.5 303.0 277.4 303.5 277.7 304.0 278.4 304.5 279.3 305.0 278.9 305.5 279.7 306.0 278.7 306.5 278.5 307.0 279.1 307.5 278.3 308.0 280.2 308.5 280.2 309.0 278.8 309.5 277.3 310.0 279.9 310.5 278.8 311.0 278.5 311.5 279.3 312.0 277.6 312.5 278.9 313.0 279.4 313.5 278.2 314.0 278.9 314.5 279.8 315.0 278.0 315.5 278.5 316.0 279.2 316.5 277.9 317.0 278.7 317.5 279.2 318.0 278.3 318.5 276.5 319.0 274.8 319.5 275.8 320.0 276.5 320.5 274.2 321.0 275.0 321.5 273.8 322.0 272.7 322.5 272.8 323.0 274.3 323.5 272.2 324.0 273.8 324.5 273.7 325.0 273.9 325.5 274.0 326.0 273.9 326.5 273.8 327.0 274.4 327.5 276.1 328.0 275.3 328.5 276.2 329.0 275.6 329.5 275.9 330.0 278.4 330.5 275.0 331.0 274.9 331.5 276.2 332.0 275.5 332.5 277.0 333.0 275.7 333.5 276.6 334.0 276.1 334.5 276.7 335.0 276.9 335.5 277.3 336.0 278.1 336.5 278.5 337.0 278.0 337.5 279.2 338.0 278.9 338.5 278.6 339.0 279.3 339.5 278.6 340.0 278.3 340.5 281.1 341.0 277.9 341.5 278.5 342.0 278.2 342.5 277.7 343.0 280.6 343.5 276.7 344.0 278.3 344.5 278.1 345.0 278.2 345.5 276.2 346.0 277.4 346.5 278.3 347.0 276.9 347.5 276.5 348.0 276.2 348.5 277.6 349.0 279.0 349.5 278.0 350.0 276.4 350.5 276.3 351.0 274.7 351.5 277.9 352.0 274.4 352.5 274.8 353.0 273.9 353.5 272.4 354.0 273.1 354.5 270.4 355.0 271.0 355.5 273.2 356.0 272.0 356.5 271.6 357.0 272.9 357.5 272.7 358.0 273.3 358.5 273.5 359.0 274.7 359.5 274.5 360.0 274.8 360.5 273.3 361.0 275.0 361.5 273.4 362.0 275.0 362.5 273.0 363.0 272.9 363.5 272.7 364.0 271.8 364.5 272.4 365.0 271.3 365.5 271.7 366.0 271.3 366.5 270.9 367.0 275.2 367.5 273.1 368.0 272.4 368.5 273.1 369.0 272.7 369.5 274.0 370.0 275.1 370.5 277.8 371.0 274.5 371.5 276.2 372.0 275.9 372.5 277.5 373.0 277.4 373.5 277.8 374.0 276.8 374.5 276.9 375.0 277.4 375.5 278.1 376.0 278.3 376.5 277.5 377.0 276.1 377.5 277.3 378.0 277.6 378.5 278.1 379.0 277.0 379.5 278.0 380.0 278.0 380.5 278.1 381.0 278.8 381.5 278.5 382.0 280.8 382.5 280.1 383.0 278.9 383.5 278.6 384.0 278.9 384.5 278.5 385.0 277.9 385.5 275.8 386.0 278.9 386.5 278.8 387.0 277.7 387.5 278.6 388.0 279.3 388.5 277.6 389.0 277.3 389.5 276.3 390.0 276.5 390.5 277.9 391.0 275.3 391.5 274.2 392.0 276.4 392.5 277.7 393.0 275.6 393.5 275.2 394.0 276.9 394.5 276.4 395.0 277.2 395.5 275.0 396.0 274.6 396.5 275.9 397.0 277.0 397.5 274.2 398.0 276.9 398.5 275.7 399.0 273.7 399.5 275.7 400.0 276.9 400.5 276.2 401.0 277.2 401.5 278.1 402.0 277.3 402.5 276.7 403.0 276.4 403.5 277.1 404.0 277.5 404.5 276.5 405.0 277.1 405.5 280.4 406.0 276.6 406.5 277.0 407.0 278.5 407.5 277.4 408.0 277.2 408.5 280.9 409.0 276.6 409.5 277.8 410.0 279.2 410.5 277.7 411.0 277.7 411.5 277.5 412.0 279.8 412.5 277.3 413.0 277.0 413.5 276.3 414.0 276.3 414.5 277.6 415.0 276.5 415.5 278.4 416.0 277.4 416.5 275.6 417.0 273.0 417.5 276.4 418.0 271.7 418.5 275.3 419.0 271.8 419.5 271.6 420.0 273.0 420.5 271.7 421.0 272.5 421.5 273.1 422.0 272.1 422.5 270.8 423.0 272.1 423.5 270.0 424.0 270.8 424.5 271.0 425.0 270.2 425.5 268.8 426.0 269.1 426.5 268.7 427.0 269.1 427.5 269.8 428.0 270.0 428.5 268.2 429.0 268.8 429.5 266.3 430.0 269.5 430.5 267.7 431.0 267.7 431.5 268.4 432.0 266.2 432.5 263.9 433.0 263.5 433.5 263.0 434.0 261.8 434.5 261.9 435.0 261.6 435.5 263.1 436.0 262.0 436.5 264.6 437.0 264.1 437.5 265.5 438.0 266.2 438.5 264.9 439.0 266.3 439.5 264.8 440.0 264.5 440.5 264.5 441.0 264.5 441.5 267.7 442.0 263.2 442.5 264.9 443.0 264.1 443.5 264.9 444.0 264.6 444.5 266.5 445.0 265.2 445.5 265.9 446.0 265.6 446.5 265.1 447.0 264.7 447.5 266.7 448.0 266.0 448.5 266.2 449.0 267.5 449.5 266.7 450.0 265.8 450.5 266.7 451.0 266.9 451.5 267.2 452.0 266.9 452.5 267.4 453.0 267.2 453.5 267.6 454.0 267.0 454.5 268.1 455.0 268.9 455.5 268.8 456.0 269.0 456.5 270.4 457.0 271.4 457.5 270.4 458.0 272.4 458.5 271.5 459.0 272.4 459.5 273.0 460.0 274.3 460.5 274.2 461.0 275.5 461.5 275.5 462.0 275.9 462.5 276.8 463.0 276.4 463.5 275.8 464.0 275.3 464.5 275.8 465.0 277.2 465.5 275.1 466.0 276.1 466.5 277.2 467.0 276.8 467.5 273.7 468.0 276.1 468.5 278.7 469.0 276.9 469.5 277.1 470.0 275.9 470.5 278.0 471.0 276.3 471.5 276.6 472.0 276.5 472.5 276.5 473.0 276.1 473.5 275.9 474.0 276.2 474.5 278.7 475.0 275.8 475.5 277.0 476.0 277.4 476.5 278.5 477.0 277.4 477.5 276.9 478.0 277.1 478.5 275.6 479.0 277.2 479.5 279.6 480.0 276.9 480.5 277.6 481.0 277.2 481.5 275.5 482.0 276.9 482.5 277.9 483.0 277.2 483.5 276.7 484.0 276.2 484.5 279.1 485.0 276.0 485.5 277.8 486.0 275.7 486.5 277.7 487.0 275.0 487.5 279.0 488.0 276.5 488.5 276.9 489.0 277.5 489.5 275.3 490.0 277.4 490.5 277.3 491.0 277.3 491.5 278.0 492.0 277.0 492.5 277.9 493.0 277.5 493.5 276.5 494.0 277.0 494.5 276.8 495.0 275.7 495.5 276.7 496.0 277.9 496.5 276.7 497.0 277.5 497.5 277.6 498.0 277.6 498.5 277.0 499.0 276.4 499.5 278.1 500.0 275.4 500.5 277.5 501.0 275.8 501.5 276.4 502.0 274.2 502.5 277.7 503.0 276.7 503.5 277.5 504.0 276.6 504.5 276.9 505.0 277.8 505.5 275.8 506.0 276.8 506.5 276.5 507.0 277.4 507.5 277.4 508.0 276.9 508.5 278.9 509.0 278.3 509.5 278.7 510.0 276.4 510.5 275.7 511.0 278.2 511.5 278.0 512.0 276.9 512.5 277.8 513.0 277.1 513.5 278.1 514.0 277.1 514.5 276.6 515.0 280.3 515.5 277.4 516.0 276.3 516.5 277.2 517.0 277.5 517.5 277.4 518.0 278.2 518.5 277.4 519.0 276.5 519.5 275.7 520.0 278.0 520.5 278.1 521.0 278.0 521.5 276.9 522.0 277.1 522.5 277.6 523.0 279.9 523.5 276.0 524.0 276.5 524.5 277.0 525.0 275.7 525.5 277.5 526.0 276.7 526.5 275.9 527.0 275.3 527.5 275.8 528.0 275.7 528.5 275.9 529.0 276.6 529.5 274.5 530.0 275.2 530.5 275.6 531.0 273.7 531.5 274.9 532.0 274.6 532.5 276.0 533.0 276.0 533.5 274.6 534.0 275.8 534.5 276.9 535.0 276.4 535.5 275.2 536.0 275.5 536.5 273.3 537.0 275.1 537.5 273.8 538.0 275.4 538.5 274.6 539.0 273.9 539.5 274.7 540.0 274.2 540.5 274.3 541.0 273.7 541.5 273.7 542.0 274.1 542.5 273.5 543.0 274.2 543.5 273.7 544.0 271.8 544.5 272.8 545.0 270.4 545.5 273.2 546.0 272.9 546.5 272.8 547.0 271.7 547.5 275.8 548.0 272.1 548.5 272.4 549.0 272.4 549.5 272.7 550.0 272.4 550.5 272.5 551.0 272.7 551.5 271.6 552.0 273.7 552.5 271.8 553.0 273.2 553.5 271.0 554.0 271.9 554.5 271.3 555.0 271.4 555.5 272.0 556.0 272.1 556.5 272.1 557.0 270.6 557.5 269.9 558.0 272.3 558.5 269.9 559.0 270.7 559.5 272.3 560.0 271.2 560.5 270.7 561.0 270.6 561.5 270.8 562.0 270.1 562.5 268.5 563.0 269.4 563.5 269.8 564.0 270.8 564.5 270.7 565.0 269.2 565.5 269.7 566.0 270.0 566.5 268.8 567.0 268.0 567.5 267.9 568.0 269.0 568.5 270.2 569.0 269.5 569.5 270.0 570.0 270.0 570.5 270.0 571.0 270.5 571.5 272.2 572.0 272.6 572.5 273.3 573.0 272.8 573.5 274.5 574.0 275.7 574.5 275.8 575.0 276.2 575.5 273.3 576.0 276.8 576.5 275.8 577.0 276.3 577.5 276.1 578.0 276.0 578.5 276.3 579.0 275.3 579.5 276.6 580.0 275.4 580.5 272.2 581.0 272.2 581.5 274.8 582.0 274.5 582.5 274.9 583.0 276.1 583.5 275.0 584.0 274.7 584.5 275.3 585.0 274.9 585.5 275.3 586.0 274.7 586.5 273.7 587.0 274.1 587.5 275.1 588.0 273.1 588.5 273.6 589.0 273.2 589.5 275.6 590.0 272.2 590.5 273.4 591.0 272.9 591.5 273.4 592.0 271.3 592.5 273.2 593.0 272.7 593.5 273.1 594.0 272.9 594.5 274.6 595.0 273.0 595.5 273.4 596.0 274.2 596.5 273.1 597.0 273.1 597.5 272.4 598.0 271.3 598.5 274.8 599.0 272.7 599.5 273.8 600.0 273.0 600.5 272.4 601.0 271.6 601.5 271.4 602.0 272.1 602.5 271.1 603.0 271.0 603.5 270.2 604.0 271.6 604.5 271.9 605.0 271.4 605.5 271.8 606.0 271.5 606.5 271.6 607.0 271.2 607.5 271.8 608.0 270.3 608.5 272.0 609.0 270.3 609.5 270.0 610.0 271.4 610.5 269.6 611.0 270.7 611.5 270.0 612.0 270.3 612.5 268.8 613.0 270.1 613.5 270.9 614.0 269.8 614.5 269.3 615.0 269.8 615.5 269.2 616.0 269.3 616.5 269.3 617.0 272.5 617.5 269.1 618.0 270.3 618.5 268.8 619.0 268.8 619.5 270.2 620.0 269.0 620.5 269.2 621.0 266.6 621.5 270.4 622.0 269.7 622.5 269.0 623.0 269.8 623.5 270.2 624.0 271.5 624.5 270.1 625.0 270.8 625.5 271.7 626.0 270.5 626.5 271.0 627.0 272.0 627.5 272.5 628.0 273.9 628.5 273.1 629.0 274.2 629.5 274.7 630.0 270.9 630.5 272.6 631.0 274.4 631.5 274.8 632.0 275.0 632.5 274.6 633.0 274.9 633.5 276.3 634.0 276.1 634.5 276.2 635.0 275.6 635.5 274.1 636.0 274.2 636.5 276.0 637.0 274.2 637.5 275.8 638.0 273.9 638.5 277.7 639.0 277.2 639.5 275.4 640.0 275.1 640.5 275.3 641.0 274.8 641.5 273.5 642.0 272.6 642.5 273.7 643.0 274.6 643.5 274.4 644.0 272.6 644.5 274.2 645.0 273.7 645.5 273.1 646.0 273.8 646.5 272.8 647.0 273.4 647.5 274.4 648.0 274.6 648.5 272.8 649.0 273.2 649.5 274.0 650.0 273.7 650.5 272.7 651.0 272.8 651.5 272.5 652.0 272.7 652.5 275.0 653.0 273.5 653.5 273.1 654.0 274.0 654.5 273.4 655.0 272.3 655.5 272.8 656.0 272.2 656.5 271.8 657.0 272.1 657.5 273.2 658.0 271.5 658.5 272.6 659.0 269.5 659.5 270.2 660.0 270.4 660.5 271.4 661.0 271.7 661.5 271.6 662.0 272.6 662.5 272.9 663.0 272.3 663.5 271.8 664.0 271.8 664.5 272.3 665.0 272.6 665.5 272.1 666.0 271.5 666.5 271.1 667.0 270.4 667.5 270.2 668.0 271.5 668.5 272.1 669.0 269.4 669.5 272.0 670.0 270.9 670.5 270.5 671.0 272.2 671.5 271.1 672.0 271.2 672.5 270.5 673.0 270.3 673.5 268.4 674.0 271.3 674.5 270.3 675.0 272.3 675.5 270.7 676.0 270.0 676.5 270.1 677.0 270.6 677.5 269.9 678.0 271.5 678.5 270.4 679.0 269.6 679.5 272.5 680.0 269.4 680.5 270.6 681.0 270.8 681.5 270.0 682.0 270.1 682.5 270.2 683.0 269.5 683.5 269.8 684.0 270.9 684.5 270.4 685.0 270.5 685.5 266.9 686.0 270.5 686.5 272.7 687.0 268.8 687.5 270.4 688.0 269.5 688.5 267.7 689.0 271.0 689.5 270.9 690.0 270.8 690.5 269.0 691.0 269.8 691.5 271.2 692.0 269.8 692.5 270.1 693.0 270.9 693.5 270.7 694.0 270.0 694.5 270.3 695.0 270.5 695.5 270.8 696.0 270.1 696.5 271.2 697.0 271.3 697.5 273.1 698.0 271.0 698.5 271.5 699.0 272.8 699.5 271.8 700.0 272.0 700.5 271.6 701.0 271.5 701.5 272.4 702.0 272.9 702.5 271.1 703.0 272.1 703.5 275.2 704.0 272.5 704.5 271.9 705.0 274.7 705.5 270.7 706.0 273.1 706.5 274.1" fill="none" stroke="#0a840a" stroke-width="3.3" stroke-linejoin="round" stroke-linecap="round"/>
<path d="M82.0 344.5L82.5 346.9 83.0 345.4 83.5 348.2 84.0 345.5 84.5 343.8 85.0 344.9 85.5 346.6 86.0 346.1 86.5 345.0 87.0 343.8 87.5 344.6 88.0 342.1 88.5 344.1 89.0 342.4 89.5 344.4 90.0 343.7 90.5 342.6 91.0 342.7 91.5 343.4 92.0 343.5 92.5 342.4 93.0 342.4 93.5 341.3 94.0 341.6 94.5 337.7 95.0 342.1 95.5 339.0 96.0 338.5 96.5 338.9 97.0 338.9 97.5 334.0 98.0 337.7 98.5 336.7 99.0 337.3 99.5 338.6 100.0 338.0 100.5 336.7 101.0 333.6 101.5 336.2 102.0 338.9 102.5 333.7 103.0 334.4 103.5 334.6 104.0 335.6 104.5 336.5 105.0 336.3 105.5 335.7 106.0 335.0 106.5 337.6 107.0 335.3 107.5 334.9 108.0 334.9 108.5 334.3 109.0 336.8 109.5 335.8 110.0 334.6 110.5 334.9 111.0 331.7 111.5 336.8 112.0 336.0 112.5 334.9 113.0 337.1 113.5 336.3 114.0 337.1 114.5 336.5 115.0 333.2 115.5 332.9 116.0 336.2 116.5 336.8 117.0 336.0 117.5 337.1 118.0 335.9 118.5 336.1 119.0 335.9 119.5 335.9 120.0 336.1 120.5 335.0 121.0 334.2 121.5 336.7 122.0 335.0 122.5 335.1 123.0 336.7 123.5 335.1 124.0 332.4 124.5 335.2 125.0 336.0 125.5 336.4 126.0 335.2 126.5 335.3 127.0 334.5 127.5 334.6 128.0 335.1 128.5 334.8 129.0 336.4 129.5 334.6 130.0 334.3 130.5 332.4 131.0 333.7 131.5 331.9 132.0 334.4 132.5 331.5 133.0 330.8 133.5 328.7 134.0 324.3 134.5 326.3 135.0 330.2 135.5 333.9 136.0 334.9 136.5 334.5 137.0 333.6 137.5 335.4 138.0 333.1 138.5 328.7 139.0 322.8 139.5 320.0 139.7 322.4 140.0 320.2 140.5 322.1 141.0 324.9 141.5 326.6 142.0 328.8 142.5 329.2 143.0 325.7 143.5 329.2 144.0 326.7 144.5 329.2 145.0 330.7 145.5 328.3 146.0 329.9 146.5 331.4 147.0 331.4 147.5 331.3 148.0 330.5 148.5 329.9 149.0 330.7 149.5 328.8 150.0 329.4 150.5 328.6 151.0 329.7 151.5 332.7 152.0 332.7 152.5 333.0 153.0 336.1 153.5 340.1 154.0 337.2 154.5 336.0 155.0 336.7 155.5 340.3 156.0 338.0 156.5 339.3 157.0 336.5 157.5 336.9 158.0 335.9 158.5 337.3 159.0 337.5 159.5 337.6 160.0 332.2 160.5 333.9 161.0 329.1 161.5 327.8 161.5 328.6 162.0 330.4 162.5 333.7 163.0 331.1 163.5 337.5 164.0 338.4 164.5 337.7 165.0 335.2 165.5 334.6 166.0 333.9 166.5 333.3 167.0 331.9 167.5 326.6 168.0 330.7 168.5 326.1 169.0 331.6 169.5 328.1 170.0 327.9 170.5 326.7 171.0 318.4 171.5 304.1 172.0 301.1 172.4 298.6 172.5 296.2 173.0 305.9 173.5 311.7 174.0 319.7 174.5 325.2 175.0 328.3 175.5 330.8 176.0 331.6 176.5 332.3 177.0 331.1 177.5 330.6 178.0 334.6 178.5 333.6 179.0 333.0 179.5 334.2 180.0 331.9 180.5 332.5 181.0 332.4 181.5 329.3 182.0 329.8 182.5 328.3 183.0 329.3 183.5 326.0 184.0 327.9 184.5 329.1 185.0 326.4 185.5 321.6 186.0 328.1 186.5 325.2 187.0 316.5 187.5 311.6 188.0 302.9 188.5 297.2 188.8 298.3 189.0 298.7 189.5 303.3 190.0 309.5 190.5 314.0 191.0 319.4 191.5 322.9 192.0 324.4 192.5 324.7 193.0 324.9 193.5 323.3 194.0 326.0 194.5 326.0 195.0 322.2 195.5 322.7 196.0 318.7 196.5 312.4 197.0 306.8 197.5 299.5 198.0 291.7 198.2 294.9 198.5 295.2 199.0 298.8 199.5 307.2 200.0 309.8 200.5 310.4 201.0 304.5 201.5 302.7 201.8 301.7 202.0 302.1 202.5 305.9 203.0 314.8 203.5 320.7 204.0 324.0 204.5 326.1 205.0 326.4 205.5 327.4 206.0 328.7 206.5 330.7 207.0 327.1 207.5 330.5 208.0 328.6 208.5 332.2 209.0 331.6 209.5 326.8 210.0 330.6 210.5 332.4 211.0 334.4 211.5 334.6 212.0 332.8 212.5 331.7 213.0 330.9 213.5 331.2 214.0 335.2 214.5 331.1 215.0 331.3 215.5 329.6 216.0 330.2 216.5 330.6 217.0 329.7 217.5 328.3 218.0 331.0 218.5 328.8 219.0 329.4 219.5 325.3 220.0 327.8 220.5 327.5 221.0 330.1 221.5 328.5 222.0 328.5 222.5 326.4 223.0 325.2 223.5 327.9 224.0 324.8 224.5 329.4 225.0 332.2 225.5 328.9 226.0 328.3 226.5 324.0 227.0 328.6 227.5 330.6 228.0 329.4 228.5 334.0 229.0 331.0 229.5 330.4 230.0 330.0 230.5 331.9 231.0 333.1 231.5 332.1 232.0 330.0 232.5 331.4 233.0 331.4 233.5 331.7 234.0 334.2 234.5 330.5 235.0 333.0 235.5 334.9 236.0 334.1 236.5 336.0 237.0 334.5 237.5 338.2 238.0 335.2 238.5 333.9 239.0 336.1 239.5 339.5 240.0 335.0 240.5 334.7 241.0 335.7 241.5 333.7 242.0 334.5 242.5 334.6 243.0 335.4 243.5 334.3 244.0 334.9 244.5 332.5 245.0 333.4 245.5 332.3 246.0 333.9 246.5 333.4 247.0 332.5 247.5 330.5 248.0 324.5 248.5 326.7 249.0 323.1 249.5 321.8 250.0 311.9 250.5 306.1 251.0 301.7 251.0 303.0 251.5 305.9 252.0 309.9 252.5 317.7 253.0 319.6 253.5 322.0 254.0 325.1 254.5 321.2 255.0 322.5 255.5 316.3 255.8 315.3 256.0 314.7 256.5 317.6 257.0 318.6 257.5 325.5 258.0 325.7 258.5 326.8 259.0 331.0 259.5 325.7 260.0 324.5 260.5 319.5 261.0 313.6 261.5 306.4 262.0 298.4 262.5 294.6 262.6 294.9 263.0 296.3 263.5 301.3 264.0 310.3 264.5 317.9 265.0 322.9 265.5 325.2 266.0 328.2 266.5 327.5 267.0 331.0 267.5 329.0 268.0 329.1 268.5 329.1 269.0 329.9 269.5 330.7 270.0 330.1 270.5 331.8 271.0 333.1 271.5 330.3 272.0 332.6 272.5 333.1 273.0 336.4 273.5 332.7 274.0 331.0 274.5 335.3 275.0 334.7 275.5 334.9 276.0 331.8 276.5 335.5 277.0 335.2 277.5 336.4 278.0 335.1 278.5 336.5 279.0 337.8 279.5 337.4 280.0 337.4 280.5 336.7 281.0 336.6 281.5 336.9 282.0 336.0 282.5 335.9 283.0 337.3 283.5 337.0 284.0 337.1 284.5 336.4 285.0 336.2 285.5 337.8 286.0 336.9 286.5 335.0 287.0 337.6 287.5 339.3 288.0 336.5 288.5 337.1 289.0 337.4 289.5 335.8 290.0 337.5 290.5 337.6 291.0 335.8 291.5 339.8 292.0 336.0 292.5 338.1 293.0 336.6 293.5 336.6 294.0 332.6 294.5 336.9 295.0 336.2 295.5 338.0 296.0 335.2 296.5 333.4 297.0 338.0 297.5 335.4 298.0 337.5 298.5 337.0 299.0 339.8 299.5 334.8 300.0 337.5 300.5 337.9 301.0 336.8 301.5 339.6 302.0 337.3 302.5 337.5 303.0 337.7 303.5 337.0 304.0 336.5 304.5 338.6 305.0 338.1 305.5 341.2 306.0 336.4 306.5 337.1 307.0 337.3 307.5 334.7 308.0 336.4 308.5 338.6 309.0 336.4 309.5 336.6 310.0 337.1 310.5 333.1 311.0 334.3 311.5 336.6 312.0 337.6 312.5 332.1 313.0 337.9 313.5 337.2 314.0 336.5 314.5 336.7 315.0 337.3 315.5 333.7 316.0 336.6 316.5 337.4 317.0 336.9 317.5 341.1 318.0 338.7 318.5 338.4 319.0 338.7 319.5 337.6 320.0 335.7 320.5 336.8 321.0 336.7 321.5 333.3 322.0 330.3 322.5 334.4 323.0 332.9 323.5 333.7 324.0 329.6 324.5 334.4 325.0 329.3 325.5 325.8 326.0 329.5 326.5 327.4 327.0 330.3 327.5 330.6 328.0 329.7 328.5 327.6 329.0 326.9 329.5 329.3 330.0 331.0 330.5 330.7 331.0 330.7 331.5 336.4 332.0 332.4 332.5 331.0 333.0 329.7 333.5 332.2 334.0 335.8 334.5 334.7 335.0 339.0 335.5 332.7 336.0 334.2 336.5 331.5 337.0 336.4 337.5 338.9 338.0 332.3 338.5 333.9 339.0 334.9 339.5 333.1 340.0 333.3 340.5 330.2 341.0 332.1 341.5 332.2 342.0 332.0 342.5 333.8 343.0 331.4 343.5 336.5 344.0 331.3 344.5 335.1 345.0 331.6 345.5 329.6 346.0 325.6 346.5 331.3 347.0 330.6 347.5 328.2 348.0 330.1 348.5 331.8 349.0 334.3 349.5 330.1 350.0 330.2 350.5 330.7 351.0 328.8 351.5 328.7 352.0 330.1 352.5 329.3 353.0 329.8 353.5 328.6 354.0 329.7 354.5 329.7 355.0 328.9 355.5 329.8 356.0 330.4 356.5 327.1 357.0 329.1 357.5 328.6 358.0 329.8 358.5 330.4 359.0 331.6 359.5 330.4 360.0 330.1 360.5 333.9 361.0 333.8 361.5 332.3 362.0 330.7 362.5 336.0 363.0 331.9 363.5 332.4 364.0 334.3 364.5 335.3 365.0 330.2 365.5 334.9 366.0 336.1 366.5 332.6 367.0 336.3 367.5 334.3 368.0 335.4 368.5 333.7 369.0 333.6 369.5 334.7 370.0 337.0 370.5 334.2 371.0 337.6 371.5 334.4 372.0 332.2 372.5 331.8 373.0 329.3 373.5 326.3 374.0 322.6 374.5 316.9 374.5 319.4 375.0 321.2 375.5 326.0 376.0 329.2 376.5 334.2 377.0 336.5 377.5 334.2 378.0 332.6 378.5 336.5 379.0 335.6 379.5 334.4 380.0 332.9 380.5 337.8 381.0 333.7 381.5 333.6 382.0 333.5 382.5 334.4 383.0 334.9 383.5 336.5 384.0 334.5 384.5 337.3 385.0 333.9 385.5 333.8 386.0 333.1 386.5 334.1 387.0 327.6 387.5 328.5 388.0 332.9 388.5 331.2 389.0 332.4 389.5 331.6 390.0 333.1 390.5 331.4 391.0 331.1 391.5 330.9 392.0 329.6 392.5 330.4 393.0 329.8 393.5 330.8 394.0 329.0 394.5 330.7 395.0 326.0 395.5 332.5 396.0 332.0 396.5 332.3 397.0 333.5 397.5 334.1 398.0 333.3 398.5 334.6 399.0 331.2 399.5 332.1 400.0 334.1 400.5 333.4 401.0 333.9 401.5 334.1 402.0 338.1 402.5 334.2 403.0 333.1 403.5 333.7 404.0 335.3 404.5 335.4 405.0 336.5 405.5 337.5 406.0 336.8 406.5 335.1 407.0 337.8 407.5 335.7 408.0 338.7 408.5 337.4 409.0 335.7 409.5 336.3 410.0 335.5 410.5 334.1 411.0 334.3 411.5 333.9 412.0 335.6 412.5 333.4 413.0 333.2 413.5 332.4 414.0 331.4 414.5 331.8 415.0 331.4 415.5 333.4 416.0 329.9 416.5 327.2 417.0 330.6 417.5 328.8 418.0 329.9 418.5 329.2 419.0 326.6 419.5 326.5 420.0 329.0 420.5 330.6 421.0 325.7 421.5 328.1 422.0 332.0 422.5 326.2 423.0 324.5 423.5 324.6 424.0 326.0 424.5 325.9 425.0 327.1 425.5 324.5 426.0 320.2 426.5 324.3 427.0 322.4 427.5 324.7 428.0 321.8 428.5 319.9 429.0 329.5 429.5 325.1 430.0 323.9 430.5 326.9 431.0 325.3 431.5 326.5 432.0 327.0 432.5 322.6 433.0 324.3 433.5 323.9 434.0 327.1 434.5 314.8 435.0 320.1 435.5 321.7 436.0 323.9 436.5 325.4 437.0 328.1 437.5 327.0 438.0 326.3 438.5 326.8 439.0 328.0 439.5 328.9 440.0 326.6 440.5 325.7 441.0 325.0 441.5 325.2 442.0 326.7 442.5 325.7 443.0 325.6 443.5 322.7 444.0 326.9 444.5 325.1 445.0 323.5 445.5 321.0 446.0 320.6 446.5 314.4 447.0 314.3 447.1 313.9 447.5 315.0 448.0 315.8 448.5 322.2 449.0 325.5 449.5 326.2 450.0 326.0 450.5 327.2 451.0 324.5 451.5 324.7 452.0 321.1 452.5 326.8 453.0 318.3 453.5 325.9 454.0 327.2 454.5 324.8 455.0 324.5 455.5 319.4 456.0 319.6 456.1 320.1 456.5 319.9 457.0 322.8 457.5 324.9 458.0 322.9 458.5 329.9 459.0 327.8 459.5 331.1 460.0 334.4 460.5 330.1 461.0 331.9 461.5 334.7 462.0 331.6 462.5 329.3 463.0 330.8 463.5 333.3 464.0 331.6 464.5 329.0 465.0 331.5 465.5 330.8 466.0 334.1 466.5 333.8 467.0 327.6 467.5 337.2 468.0 333.1 468.5 328.7 469.0 329.3 469.5 332.0 470.0 328.1 470.5 326.5 471.0 332.8 471.5 333.3 472.0 327.2 472.5 334.4 473.0 332.2 473.5 332.6 474.0 329.0 474.5 331.9 475.0 332.8 475.5 334.4 476.0 332.2 476.5 328.8 477.0 326.8 477.5 335.5 478.0 332.5 478.5 329.4 479.0 331.8 479.5 331.8 480.0 330.4 480.5 331.0 481.0 328.3 481.5 329.9 482.0 328.0 482.5 332.2 483.0 328.4 483.5 327.1 484.0 330.4 484.5 333.4 485.0 332.6 485.5 335.7 486.0 330.9 486.5 331.0 487.0 332.9 487.5 334.4 488.0 333.2 488.5 334.3 489.0 333.9 489.5 326.5 490.0 328.5 490.5 331.8 491.0 336.9 491.5 330.6 492.0 333.9 492.5 333.3 493.0 326.8 493.5 335.2 494.0 332.3 494.5 333.2 495.0 332.6 495.5 332.5 496.0 340.3 496.5 333.2 497.0 326.0 497.5 340.3 498.0 334.0 498.5 335.2 499.0 336.9 499.5 335.3 500.0 333.5 500.5 331.4 501.0 332.2 501.5 328.5 502.0 329.4 502.5 331.8 503.0 327.2 503.5 337.5 504.0 331.4 504.5 332.9 505.0 333.3 505.5 340.4 506.0 333.6 506.5 327.5 507.0 333.0 507.5 333.5 508.0 333.3 508.5 332.4 509.0 332.4 509.5 332.7 510.0 334.7 510.5 326.8 511.0 335.0 511.5 329.6 512.0 332.6 512.5 331.6 513.0 334.5 513.5 337.4 514.0 335.4 514.5 333.7 515.0 334.6 515.5 335.2 516.0 336.0 516.5 331.6 517.0 331.1 517.5 337.5 518.0 336.4 518.5 330.9 519.0 335.2 519.5 331.7 520.0 332.8 520.5 333.8 521.0 335.1 521.5 340.6 522.0 334.7 522.5 335.6 523.0 336.0 523.5 332.2 524.0 334.4 524.5 330.6 525.0 332.7 525.5 332.5 526.0 333.9 526.5 331.5 527.0 333.7 527.5 332.8 528.0 326.1 528.5 334.0 529.0 334.6 529.5 333.0 530.0 333.3 530.5 329.6 531.0 334.4 531.5 329.0 532.0 333.8 532.5 334.2 533.0 330.0 533.5 336.5 534.0 334.1 534.5 332.9 535.0 333.1 535.5 332.0 536.0 335.7 536.5 332.7 537.0 337.2 537.5 333.5 538.0 334.0 538.5 336.0 539.0 338.2 539.5 336.8 540.0 329.5 540.5 334.0 541.0 335.5 541.5 335.8 542.0 334.0 542.5 331.3 543.0 327.5 543.5 335.5 544.0 334.8 544.5 331.6 545.0 335.0 545.5 334.5 546.0 333.9 546.5 333.1 547.0 337.3 547.5 333.4 548.0 336.0 548.5 333.8 549.0 334.6 549.5 337.1 550.0 337.8 550.5 334.4 551.0 332.9 551.5 335.7 552.0 334.3 552.5 334.1 553.0 329.9 553.5 332.0 554.0 340.1 554.5 336.6 555.0 329.1 555.5 333.3 556.0 330.9 556.5 333.9 557.0 331.0 557.5 331.3 558.0 330.0 558.5 330.6 559.0 335.3 559.5 331.1 560.0 333.4 560.5 330.4 561.0 332.5 561.5 330.5 562.0 335.5 562.5 332.9 563.0 334.2 563.5 329.0 564.0 331.5 564.5 326.7 565.0 331.9 565.5 333.6 566.0 332.2 566.5 334.1 567.0 333.2 567.5 335.1 568.0 331.1 568.5 330.6 569.0 327.5 569.5 326.9 570.0 334.2 570.5 332.3 571.0 333.8 571.5 334.7 572.0 333.2 572.5 332.7 573.0 332.8 573.5 335.2 574.0 332.5 574.5 333.7 575.0 333.4 575.5 334.7 576.0 334.1 576.5 333.5 577.0 337.0 577.5 334.2 578.0 329.2 578.5 330.8 579.0 330.9 579.5 333.0 580.0 331.8 580.5 337.7 581.0 332.1 581.5 334.8 582.0 332.2 582.5 331.3 583.0 332.5 583.5 333.5 584.0 328.4 584.5 335.6 585.0 329.5 585.5 332.9 586.0 331.8 586.5 330.4 587.0 334.1 587.5 335.0 588.0 334.1 588.5 334.3 589.0 334.7 589.5 332.8 590.0 333.7 590.5 334.3 591.0 330.6 591.5 333.1 592.0 336.7 592.5 330.5 593.0 329.8 593.5 329.5 594.0 335.4 594.5 332.6 595.0 327.4 595.5 330.4 596.0 336.6 596.5 331.9 597.0 331.8 597.5 332.0 598.0 330.8 598.5 329.5 599.0 331.7 599.5 331.5 600.0 329.7 600.5 332.6 601.0 330.8 601.5 329.4 602.0 331.1 602.5 330.5 603.0 326.2 603.5 333.8 604.0 333.5 604.5 333.1 605.0 330.3 605.5 330.3 606.0 330.3 606.5 330.6 607.0 332.0 607.5 333.5 608.0 334.7 608.5 333.2 609.0 326.2 609.5 330.9 610.0 333.8 610.5 331.1 611.0 330.9 611.5 334.1 612.0 329.1 612.5 335.1 613.0 333.9 613.5 334.1 614.0 338.4 614.5 329.6 615.0 331.2 615.5 333.6 616.0 331.3 616.5 328.2 617.0 325.0 617.5 329.6 618.0 329.0 618.5 331.4 619.0 329.8 619.5 330.2 620.0 338.0 620.5 330.1 621.0 326.5 621.5 331.4 622.0 332.5 622.5 330.4 623.0 335.3 623.5 327.3 624.0 331.1 624.5 324.9 625.0 331.8 625.5 335.0 626.0 330.8 626.5 331.4 627.0 330.4 627.5 325.8 628.0 322.3 628.0 322.7 628.5 329.2 629.0 331.2 629.5 331.4 630.0 332.0 630.5 332.6 631.0 325.4 631.5 330.4 632.0 335.2 632.5 334.6 633.0 331.4 633.5 333.6 634.0 331.4 634.5 330.9 635.0 328.3 635.5 332.9 636.0 334.6 636.5 331.3 637.0 334.0 637.5 332.5 638.0 331.6 638.5 325.6 639.0 333.4 639.5 335.9 640.0 336.7 640.5 333.8 641.0 331.5 641.5 332.5 642.0 331.7 642.5 338.4 643.0 328.5 643.5 333.0 644.0 339.7 644.5 331.6 645.0 341.0 645.5 332.8 646.0 336.0 646.5 334.1 647.0 335.8 647.5 331.1 648.0 336.4 648.5 331.6 649.0 332.8 649.5 332.0 650.0 328.1 650.5 333.7 651.0 334.4 651.5 334.3 652.0 336.5 652.5 333.4 653.0 330.0 653.5 330.6 654.0 332.6 654.5 335.8 655.0 335.3 655.5 333.3 656.0 335.3 656.5 332.3 657.0 335.8 657.5 330.9 658.0 333.5 658.5 333.1 659.0 333.6 659.5 328.9 660.0 330.9 660.5 325.6 661.0 329.7 661.5 332.9 662.0 330.6 662.5 330.4 663.0 333.6 663.5 332.6 664.0 330.1 664.5 330.4 665.0 330.2 665.5 331.9 666.0 331.2 666.5 327.8 667.0 332.9 667.5 329.8 668.0 333.2 668.5 331.5 669.0 332.9 669.5 332.6 670.0 327.8 670.5 329.9 671.0 328.8 671.5 330.7 672.0 328.9 672.5 333.0 673.0 331.6 673.5 330.4 674.0 333.3 674.5 329.2 675.0 329.8 675.5 335.8 676.0 335.9 676.5 331.0 677.0 332.7 677.5 330.3 678.0 331.8 678.5 329.8 679.0 332.6 679.5 331.1 680.0 329.8 680.5 332.5 681.0 329.2 681.5 333.0 682.0 331.8 682.5 333.3 683.0 332.1 683.5 330.7 684.0 332.1 684.5 327.2 685.0 330.5 685.5 330.8 686.0 332.1 686.5 330.1 687.0 331.4 687.5 329.9 688.0 327.9 688.5 329.5 689.0 329.4 689.5 329.7 690.0 330.4 690.5 328.9 691.0 331.3 691.5 327.0 692.0 327.1 692.5 331.7 693.0 328.9 693.5 326.5 694.0 332.4 694.5 328.6 695.0 331.0 695.5 329.8 696.0 323.8 696.5 328.1 697.0 328.3 697.5 330.7 698.0 332.3 698.5 329.6 699.0 329.1 699.5 329.6 700.0 328.0 700.5 325.8 701.0 331.2 701.5 331.6 702.0 333.8 702.5 331.5 703.0 330.2 703.5 334.1 704.0 332.3 704.5 334.3 705.0 332.2 705.5 337.6 706.0 333.6 706.5 327.7" fill="none" stroke="#0808f0" stroke-width="3.4" stroke-linejoin="round" stroke-linecap="round"/>
<path d="M82.0 391.3L82.5 390.9 83.0 391.1 83.5 391.2 84.0 390.4 84.5 391.3 85.0 390.8 85.5 390.3 86.0 388.6 86.5 390.4 87.0 390.9 87.5 390.6 88.0 390.4 88.5 390.6 89.0 390.4 89.5 391.7 90.0 390.7 90.5 391.2 91.0 388.3 91.5 390.9 92.0 391.0 92.5 392.2 93.0 389.4 93.5 389.7 94.0 390.1 94.5 390.9 95.0 390.1 95.5 390.1 96.0 389.6 96.5 391.0 97.0 390.4 97.5 391.6 98.0 389.6 98.5 390.3 99.0 390.0 99.5 388.7 100.0 387.9 100.5 388.9 101.0 390.9 101.5 389.3 102.0 390.2 102.5 390.2 103.0 388.9 103.5 390.1 104.0 390.3 104.5 389.5 105.0 390.3 105.5 389.8 106.0 389.1 106.5 389.6 107.0 389.0 107.5 389.3 108.0 389.3 108.5 389.6 109.0 389.7 109.5 389.7 110.0 389.5 110.5 389.7 111.0 389.5 111.5 389.5 112.0 390.0 112.5 390.0 113.0 389.0 113.5 389.2 114.0 390.0 114.5 389.8 115.0 389.2 115.5 389.7 116.0 387.9 116.5 389.7 117.0 389.8 117.5 388.3 118.0 388.9 118.5 389.5 119.0 389.1 119.5 386.9 120.0 389.3 120.5 388.0 121.0 389.5 121.5 389.5 122.0 388.1 122.5 389.4 123.0 389.2 123.5 390.5 124.0 388.9 124.5 388.0 125.0 388.1 125.5 388.4 126.0 387.3 126.5 389.0 127.0 388.5 127.5 387.8 128.0 389.5 128.5 387.8 129.0 387.8 129.5 388.7 130.0 388.0 130.5 387.0 131.0 387.8 131.5 388.1 132.0 387.3 132.5 387.9 133.0 387.9 133.5 386.3 134.0 386.9 134.5 387.0 135.0 388.6 135.5 386.6 136.0 387.0 136.5 386.4 137.0 385.6 137.5 387.4 138.0 386.2 138.5 386.5 139.0 386.5 139.5 386.1 140.0 386.4 140.5 385.9 141.0 384.9 141.5 387.9 142.0 386.9 142.5 387.4 143.0 387.3 143.5 385.1 144.0 384.8 144.5 385.8 145.0 385.8 145.5 384.7 146.0 387.0 146.5 385.7 147.0 385.3 147.5 385.2 148.0 385.1 148.5 386.6 149.0 384.1 149.5 385.9 150.0 384.0 150.5 385.8 151.0 385.4 151.5 385.3 152.0 385.0 152.5 385.4 153.0 385.3 153.5 385.5 154.0 386.3 154.5 385.5 155.0 385.0 155.5 385.8 156.0 387.5 156.5 386.5 157.0 386.5 157.5 386.2 158.0 387.9 158.5 387.8 159.0 387.4 159.5 388.2 160.0 387.7 160.5 387.7 161.0 387.7 161.5 387.2 162.0 388.4 162.5 388.6 163.0 388.8 163.5 388.6 164.0 388.1 164.5 389.2 165.0 389.0 165.5 389.8 166.0 389.5 166.5 389.7 167.0 389.7 167.5 390.3 168.0 390.6 168.5 391.7 169.0 389.5 169.5 389.3 170.0 390.5 170.5 388.0 171.0 390.5 171.5 390.3 172.0 390.4 172.5 390.8 173.0 391.1 173.5 390.0 174.0 390.3 174.5 389.9 175.0 389.3 175.5 390.2 176.0 390.8 176.5 388.0 177.0 390.0 177.5 389.5 178.0 389.9 178.5 389.1 179.0 389.9 179.5 389.1 180.0 391.1 180.5 390.5 181.0 391.1 181.5 389.6 182.0 390.1 182.5 390.1 183.0 390.5 183.5 389.9 184.0 390.2 184.5 389.4 185.0 392.3 185.5 390.2 186.0 390.6 186.5 390.5 187.0 390.1 187.5 389.8 188.0 389.3 188.5 389.7 189.0 390.3 189.5 389.4 190.0 390.2 190.5 390.6 191.0 390.3 191.5 390.2 192.0 388.7 192.5 391.0 193.0 389.1 193.5 390.5 194.0 390.2 194.5 389.9 195.0 389.2 195.5 390.5 196.0 391.2 196.5 389.7 197.0 390.2 197.5 389.7 198.0 389.6 198.5 390.7 199.0 389.5 199.5 391.1 200.0 389.4 200.5 388.7 201.0 389.8 201.5 388.2 202.0 389.0 202.5 388.6 203.0 387.8 203.5 387.4 204.0 389.3 204.5 387.8 205.0 387.4 205.5 386.8 206.0 387.6 206.5 387.3 207.0 386.8 207.5 387.3 208.0 387.7 208.5 389.2 209.0 387.1 209.5 387.2 210.0 385.8 210.5 385.1 211.0 385.2 211.5 387.2 212.0 386.5 212.5 385.1 213.0 385.9 213.5 383.8 214.0 385.9 214.5 384.0 215.0 386.4 215.5 384.7 216.0 384.2 216.5 386.3 217.0 385.9 217.5 385.3 218.0 386.4 218.5 385.4 219.0 385.7 219.5 385.1 220.0 384.5 220.5 385.5 221.0 387.0 221.5 387.2 222.0 388.0 222.5 387.5 223.0 388.1 223.5 387.8 224.0 387.6 224.5 387.3 225.0 387.8 225.5 385.7 226.0 387.9 226.5 388.7 227.0 388.5 227.5 387.9 228.0 388.9 228.5 387.8 229.0 388.9 229.5 389.9 230.0 389.2 230.5 388.7 231.0 389.5 231.5 389.2 232.0 389.9 232.5 389.3 233.0 387.3 233.5 389.7 234.0 389.7 234.5 389.0 235.0 390.0 235.5 391.0 236.0 389.3 236.5 389.9 237.0 387.9 237.5 389.6 238.0 389.8 238.5 390.5 239.0 388.8 239.5 389.4 240.0 390.0 240.5 390.0 241.0 388.5 241.5 387.9 242.0 390.0 242.5 388.0 243.0 388.8 243.5 388.2 244.0 390.1 244.5 389.3 245.0 388.9 245.5 389.4 246.0 387.3 246.5 389.7 247.0 388.2 247.5 388.6 248.0 388.9 248.5 386.8 249.0 387.2 249.5 386.2 250.0 385.8 250.5 388.2 251.0 386.0 251.5 384.0 252.0 383.0 252.5 381.9 253.0 379.4 253.5 375.4 254.0 371.9 254.5 368.4 255.0 363.2 255.5 360.6 255.7 360.9 256.0 360.0 256.5 366.4 257.0 370.0 257.5 373.8 258.0 378.8 258.5 381.7 259.0 380.8 259.5 385.0 260.0 385.4 260.5 386.1 261.0 386.7 261.5 388.0 262.0 385.1 262.5 387.7 263.0 389.9 263.5 387.0 264.0 387.5 264.5 387.9 265.0 389.9 265.5 388.2 266.0 390.6 266.5 388.3 267.0 388.5 267.5 389.0 268.0 388.8 268.5 388.0 269.0 389.2 269.5 388.8 270.0 389.0 270.5 388.7 271.0 387.4 271.5 389.6 272.0 388.6 272.5 387.4 273.0 389.0 273.5 389.1 274.0 388.4 274.5 389.8 275.0 388.4 275.5 389.5 276.0 389.8 276.5 389.3 277.0 389.0 277.5 390.0 278.0 388.6 278.5 388.3 279.0 389.4 279.5 389.0 280.0 390.4 280.5 387.9 281.0 388.9 281.5 389.9 282.0 391.7 282.5 390.1 283.0 389.5 283.5 389.6 284.0 389.1 284.5 389.7 285.0 388.9 285.5 390.1 286.0 391.3 286.5 388.3 287.0 389.0 287.5 391.8 288.0 389.3 288.5 388.8 289.0 389.0 289.5 388.5 290.0 390.2 290.5 389.7 291.0 390.1 291.5 389.8 292.0 389.6 292.5 389.1 293.0 390.3 293.5 390.2 294.0 389.7 294.5 389.5 295.0 389.5 295.5 389.0 296.0 389.2 296.5 390.1 297.0 389.6 297.5 388.7 298.0 389.6 298.5 390.2 299.0 388.8 299.5 389.4 300.0 389.6 300.5 389.1 301.0 389.1 301.5 389.0 302.0 387.1 302.5 386.6 303.0 385.5 303.5 385.5 304.0 386.9 304.5 387.1 305.0 388.3 305.5 389.1 306.0 389.6 306.5 389.4 307.0 390.2 307.5 389.8 308.0 388.6 308.5 389.9 309.0 391.0 309.5 391.8 310.0 389.8 310.5 390.4 311.0 389.4 311.5 391.0 312.0 392.2 312.5 390.5 313.0 389.5 313.5 391.3 314.0 389.9 314.5 390.6 315.0 390.4 315.5 390.3 316.0 390.4 316.5 389.7 317.0 391.1 317.5 389.8 318.0 390.5 318.5 391.3 319.0 390.9 319.5 390.4 320.0 392.2 320.5 391.4 321.0 390.9 321.5 391.1 322.0 391.6 322.5 392.5 323.0 391.2 323.5 390.8 324.0 390.8 324.5 390.2 325.0 390.8 325.5 390.7 326.0 390.3 326.5 391.2 327.0 392.0 327.5 389.9 328.0 390.7 328.5 390.9 329.0 390.9 329.5 392.2 330.0 391.2 330.5 390.1 331.0 391.2 331.5 390.9 332.0 390.7 332.5 390.7 333.0 391.3 333.5 391.1 334.0 390.4 334.5 393.1 335.0 389.5 335.5 391.2 336.0 390.6 336.5 390.7 337.0 390.8 337.5 391.6 338.0 390.8 338.5 389.1 339.0 390.5 339.5 391.5 340.0 390.5 340.5 391.1 341.0 390.7 341.5 391.4 342.0 390.5 342.5 391.9 343.0 391.4 343.5 390.3 344.0 390.3 344.5 391.6 345.0 391.4 345.5 390.0 346.0 388.3 346.5 390.2 347.0 391.5 347.5 390.4 348.0 390.4 348.5 391.3 349.0 392.9 349.5 390.5 350.0 391.0 350.5 390.7 351.0 391.2 351.5 390.9 352.0 391.3 352.5 390.5 353.0 391.4 353.5 392.2 354.0 390.8 354.5 390.7 355.0 390.2 355.5 390.9 356.0 392.4 356.5 389.8 357.0 390.0 357.5 390.0 358.0 389.8 358.5 390.2 359.0 390.0 359.5 389.2 360.0 391.1 360.5 388.1 361.0 390.8 361.5 388.1 362.0 390.6 362.5 390.8 363.0 390.5 363.5 389.9 364.0 390.2 364.5 390.7 365.0 389.7 365.5 389.7 366.0 390.4 366.5 390.3 367.0 390.5 367.5 391.1 368.0 391.0 368.5 390.0 369.0 389.7 369.5 388.5 370.0 391.8 370.5 391.2 371.0 390.6 371.5 390.7 372.0 390.2 372.5 390.4 373.0 390.8 373.5 390.4 374.0 390.7 374.5 390.5 375.0 391.0 375.5 390.0 376.0 389.7 376.5 390.0 377.0 390.2 377.5 390.9 378.0 390.9 378.5 389.4 379.0 392.2 379.5 389.7 380.0 390.5 380.5 390.5 381.0 390.8 381.5 389.1 382.0 391.4 382.5 389.6 383.0 389.9 383.5 390.9 384.0 390.9 384.5 389.1 385.0 389.8 385.5 390.0 386.0 390.6 386.5 389.6 387.0 390.1 387.5 389.2 388.0 390.3 388.5 390.3 389.0 389.5 389.5 389.1 390.0 389.5 390.5 388.0 391.0 389.6 391.5 388.1 392.0 391.6 392.5 390.9 393.0 390.7 393.5 389.4 394.0 391.1 394.5 389.6 395.0 390.7 395.5 390.2 396.0 390.8 396.5 387.5 397.0 390.0 397.5 389.3 398.0 389.2 398.5 389.5 399.0 390.0 399.5 390.1 400.0 390.4 400.5 390.4 401.0 390.9 401.5 390.2 402.0 390.5 402.5 389.0 403.0 389.8 403.5 390.0 404.0 389.2 404.5 389.6 405.0 389.6 405.5 389.7 406.0 388.5 406.5 389.7 407.0 389.3 407.5 387.9 408.0 388.4 408.5 390.0 409.0 390.0 409.5 390.9 410.0 390.3 410.5 388.3 411.0 388.4 411.5 388.9 412.0 387.8 412.5 388.0 413.0 387.2 413.5 386.8 414.0 386.8 414.5 386.2 415.0 385.5 415.5 385.4 416.0 385.0 416.5 384.6 417.0 384.9 417.5 384.3 418.0 384.2 418.5 385.1 419.0 383.9 419.5 384.6 420.0 384.2 420.5 383.1 421.0 382.3 421.5 382.3 422.0 383.4 422.5 383.6 423.0 383.7 423.5 385.1 424.0 384.6 424.5 385.2 425.0 385.3 425.5 384.5 426.0 383.9 426.5 387.1 427.0 384.1 427.5 385.0 428.0 384.5 428.5 384.6 429.0 384.2 429.5 384.1 430.0 383.9 430.5 385.2 431.0 384.2 431.5 383.0 432.0 384.9 432.5 385.2 433.0 385.1 433.5 385.5 434.0 385.2 434.5 385.4 435.0 386.9 435.5 385.2 436.0 384.9 436.5 386.4 437.0 384.6 437.5 386.3 438.0 385.4 438.5 387.4 439.0 386.9 439.5 386.9 440.0 388.4 440.5 386.6 441.0 387.3 441.5 388.1 442.0 387.7 442.5 388.2 443.0 389.2 443.5 390.9 444.0 388.1 444.5 391.5 445.0 389.5 445.5 388.9 446.0 389.0 446.5 388.9 447.0 389.5 447.5 388.9 448.0 389.8 448.5 389.0 449.0 389.0 449.5 390.6 450.0 388.1 450.5 391.6 451.0 389.4 451.5 389.8 452.0 389.1 452.5 386.6 453.0 388.4 453.5 387.1 454.0 389.5 454.5 388.7 455.0 386.6 455.5 388.4 456.0 389.4 456.5 388.8 457.0 388.4 457.5 388.6 458.0 391.0 458.5 388.5 459.0 389.1 459.5 390.4 460.0 388.2 460.5 388.3 461.0 389.4 461.5 388.7 462.0 388.2 462.5 391.5 463.0 387.3 463.5 389.1 464.0 388.2 464.5 390.4 465.0 388.7 465.5 388.7 466.0 388.2 466.5 389.4 467.0 387.9 467.5 390.0 468.0 388.7 468.5 390.5 469.0 389.1 469.5 388.4 470.0 389.5 470.5 390.7 471.0 388.5 471.5 388.8 472.0 388.6 472.5 388.7 473.0 388.8 473.5 389.2 474.0 388.7 474.5 388.2 475.0 388.8 475.5 388.9 476.0 390.2 476.5 388.1 477.0 388.0 477.5 388.8 478.0 389.2 478.5 387.9 479.0 387.1 479.5 388.5 480.0 388.7 480.5 390.3 481.0 389.5 481.5 389.8 482.0 387.9 482.5 388.5 483.0 388.6 483.5 388.6 484.0 389.3 484.5 388.4 485.0 388.4 485.5 388.0 486.0 390.3 486.5 388.4 487.0 390.2 487.5 389.5 488.0 389.6 488.5 387.9 489.0 389.2 489.5 388.2 490.0 386.8 490.5 390.1 491.0 389.2 491.5 391.6 492.0 388.9 492.5 389.3 493.0 390.2 493.5 389.1 494.0 388.7 494.5 386.8 495.0 388.9 495.5 387.9 496.0 390.2 496.5 389.0 497.0 389.5 497.5 389.6 498.0 389.2 498.5 389.1 499.0 389.2 499.5 389.7 500.0 389.7 500.5 387.0 501.0 389.8 501.5 390.7 502.0 389.0 502.5 390.0 503.0 389.2 503.5 389.8 504.0 389.7 504.5 389.1 505.0 390.7 505.5 390.5 506.0 389.8 506.5 391.4 507.0 391.5 507.5 388.8 508.0 389.6 508.5 389.7 509.0 389.7 509.5 391.3 510.0 390.8 510.5 392.5 511.0 390.1 511.5 390.5 512.0 390.3 512.5 390.1 513.0 389.6 513.5 389.9 514.0 389.8 514.5 389.6 515.0 391.6 515.5 390.2 516.0 390.1 516.5 391.2 517.0 391.7 517.5 389.3 518.0 389.0 518.5 392.1 519.0 391.0 519.5 389.6 520.0 390.1 520.5 389.7 521.0 391.0 521.5 389.5 522.0 390.8 522.5 391.5 523.0 389.9 523.5 390.2 524.0 390.9 524.5 390.6 525.0 390.2 525.5 390.3 526.0 390.4 526.5 390.6 527.0 391.3 527.5 391.2 528.0 391.5 528.5 390.1 529.0 390.9 529.5 390.6 530.0 390.8 530.5 389.9 531.0 390.7 531.5 389.6 532.0 391.4 532.5 390.7 533.0 390.5 533.5 390.7 534.0 390.6 534.5 390.4 535.0 391.3 535.5 390.8 536.0 391.2 536.5 390.7 537.0 390.6 537.5 389.7 538.0 388.3 538.5 390.6 539.0 390.6 539.5 390.8 540.0 389.8 540.5 392.2 541.0 390.0 541.5 388.9 542.0 391.4 542.5 391.6 543.0 389.9 543.5 390.9 544.0 390.1 544.5 389.9 545.0 389.6 545.5 390.7 546.0 390.0 546.5 389.7 547.0 390.0 547.5 390.2 548.0 390.5 548.5 390.0 549.0 390.2 549.5 390.9 550.0 390.5 550.5 391.4 551.0 389.7 551.5 390.8 552.0 388.8 552.5 389.8 553.0 388.2 553.5 387.6 554.0 391.9 554.5 389.8 555.0 391.0 555.5 389.1 556.0 388.5 556.5 391.6 557.0 388.2 557.5 386.3 558.0 387.7 558.5 388.6 559.0 388.2 559.5 388.1 560.0 387.8 560.5 388.0 561.0 386.0 561.5 387.3 562.0 384.0 562.5 387.3 563.0 384.2 563.5 385.7 564.0 384.3 564.5 386.2 565.0 384.8 565.5 384.0 566.0 384.5 566.5 383.7 567.0 382.1 567.5 381.4 568.0 382.1 568.5 383.0 569.0 384.4 569.5 386.2 570.0 385.2 570.5 386.3 571.0 386.0 571.5 385.7 572.0 386.2 572.5 384.8 573.0 386.3 573.5 386.9 574.0 386.2 574.5 386.3 575.0 386.5 575.5 386.7 576.0 387.3 576.5 385.6 577.0 386.2 577.5 386.8 578.0 388.4 578.5 388.1 579.0 389.6 579.5 388.0 580.0 388.3 580.5 388.8 581.0 388.2 581.5 388.5 582.0 387.7 582.5 386.4 583.0 388.4 583.5 388.9 584.0 390.0 584.5 389.5 585.0 390.8 585.5 390.0 586.0 389.0 586.5 389.5 587.0 390.1 587.5 389.4 588.0 389.3 588.5 388.4 589.0 387.3 589.5 387.9 590.0 387.6 590.5 388.6 591.0 390.3 591.5 389.4 592.0 388.6 592.5 389.4 593.0 388.9 593.5 388.6 594.0 389.3 594.5 389.2 595.0 388.4 595.5 389.2 596.0 388.6 596.5 389.1 597.0 388.9 597.5 387.5 598.0 391.0 598.5 387.9 599.0 387.3 599.5 389.4 600.0 387.5 600.5 388.7 601.0 389.2 601.5 388.2 602.0 388.1 602.5 387.9 603.0 387.9 603.5 388.0 604.0 386.9 604.5 387.2 605.0 388.2 605.5 387.7 606.0 388.1 606.5 388.0 607.0 388.2 607.5 388.2 608.0 387.0 608.5 386.9 609.0 388.7 609.5 388.0 610.0 390.2 610.5 388.8 611.0 388.0 611.5 387.8 612.0 387.7 612.5 388.2 613.0 388.1 613.5 389.3 614.0 388.3 614.5 390.4 615.0 390.4 615.5 387.7 616.0 388.5 616.5 387.4 617.0 389.2 617.5 387.8 618.0 388.4 618.5 388.2 619.0 390.4 619.5 389.5 620.0 388.1 620.5 387.8 621.0 388.5 621.5 388.3 622.0 389.0 622.5 388.6 623.0 388.7 623.5 388.3 624.0 388.2 624.5 388.1 625.0 387.7 625.5 388.7 626.0 388.8 626.5 388.9 627.0 389.7 627.5 388.7 628.0 388.4 628.5 387.8 629.0 386.6 629.5 387.1 630.0 387.9 630.5 389.5 631.0 387.7 631.5 387.8 632.0 388.9 632.5 389.4 633.0 388.6 633.5 388.6 634.0 387.1 634.5 388.8 635.0 387.2 635.5 388.7 636.0 388.6 636.5 390.2 637.0 389.3 637.5 388.1 638.0 387.8 638.5 386.9 639.0 389.1 639.5 388.4 640.0 387.1 640.5 388.3 641.0 389.7 641.5 387.9 642.0 387.8 642.5 388.2 643.0 388.5 643.5 388.6 644.0 388.9 644.5 390.7 645.0 388.5 645.5 388.5 646.0 387.7 646.5 388.1 647.0 387.3 647.5 389.6 648.0 388.9 648.5 387.9 649.0 389.0 649.5 389.0 650.0 388.3 650.5 388.3 651.0 388.4 651.5 388.0 652.0 388.3 652.5 387.9 653.0 388.0 653.5 388.5 654.0 387.5 654.5 388.0 655.0 388.4 655.5 387.5 656.0 388.0 656.5 387.0 657.0 388.2 657.5 387.7 658.0 389.5 658.5 388.0 659.0 389.0 659.5 386.7 660.0 389.0 660.5 388.2 661.0 387.6 661.5 388.0 662.0 388.9 662.5 388.5 663.0 387.2 663.5 389.0 664.0 388.1 664.5 386.9 665.0 388.4 665.5 385.8 666.0 388.1 666.5 387.1 667.0 388.2 667.5 388.6 668.0 389.3 668.5 387.9 669.0 387.8 669.5 388.2 670.0 388.7 670.5 387.7 671.0 388.5 671.5 389.5 672.0 388.9 672.5 387.3 673.0 388.4 673.5 388.0 674.0 388.4 674.5 387.0 675.0 388.6 675.5 389.4 676.0 388.4 676.5 387.8 677.0 386.8 677.5 387.9 678.0 389.8 678.5 388.0 679.0 387.9 679.5 391.0 680.0 388.0 680.5 388.2 681.0 387.7 681.5 388.4 682.0 387.7 682.5 387.3 683.0 387.8 683.5 386.4 684.0 387.6 684.5 389.7 685.0 388.6 685.5 387.2 686.0 388.2 686.5 387.7 687.0 385.2 687.5 387.3 688.0 387.3 688.5 385.5 689.0 387.1 689.5 388.2 690.0 388.7 690.5 388.2 691.0 390.4 691.5 388.3 692.0 387.6 692.5 386.8 693.0 387.7 693.5 388.5 694.0 387.5 694.5 389.1 695.0 388.8 695.5 386.9 696.0 387.3 696.5 387.4 697.0 388.0 697.5 389.0 698.0 388.8 698.5 387.7 699.0 387.3 699.5 385.8 700.0 388.3 700.5 387.4 701.0 388.1 701.5 388.1 702.0 389.1 702.5 388.0 703.0 389.8 703.5 386.4 704.0 388.7 704.5 388.3 705.0 387.3 705.5 388.0 706.0 389.3 706.5 388.3" fill="none" stroke="#7a1c05" stroke-width="3.3" stroke-linejoin="round" stroke-linecap="round"/>
<path d="M82.0 441.2L82.5 440.8 83.0 441.2 83.5 441.0 84.0 441.3 84.5 441.8 85.0 439.9 85.5 441.0 86.0 441.3 86.5 441.0 87.0 440.5 87.5 441.0 88.0 441.2 88.5 441.2 89.0 440.8 89.5 440.8 90.0 441.1 90.5 440.8 91.0 441.2 91.5 441.4 92.0 441.3 92.5 440.6 93.0 441.4 93.5 441.0 94.0 441.0 94.5 441.5 95.0 441.2 95.5 441.1 96.0 441.1 96.5 441.1 97.0 441.2 97.5 441.6 98.0 440.8 98.5 440.3 99.0 441.3 99.5 441.0 100.0 441.2 100.5 441.6 101.0 441.3 101.5 441.0 102.0 441.3 102.5 439.9 103.0 440.7 103.5 441.7 104.0 441.4 104.5 441.8 105.0 441.1 105.5 441.0 106.0 440.7 106.5 441.2 107.0 440.9 107.5 441.3 108.0 440.4 108.5 440.8 109.0 441.1 109.5 441.1 110.0 441.5 110.5 441.0 111.0 441.2 111.5 441.9 112.0 441.2 112.5 441.5 113.0 441.3 113.5 441.5 114.0 441.5 114.5 441.4 115.0 441.7 115.5 440.9 116.0 441.4 116.5 439.9 117.0 440.9 117.5 440.6 118.0 441.3 118.5 441.2 119.0 441.5 119.5 440.7 120.0 441.0 120.5 441.4 121.0 440.9 121.5 441.3 122.0 441.6 122.5 441.2 123.0 440.1 123.5 439.9 124.0 441.3 124.5 441.7 125.0 441.3 125.5 441.2 126.0 441.1 126.5 440.0 127.0 440.1 127.5 440.0 128.0 438.9 128.5 439.7 129.0 439.3 129.5 439.1 130.0 438.8 130.5 438.9 131.0 438.3 131.5 438.6 132.0 437.6 132.5 437.9 133.0 437.0 133.5 437.5 134.0 437.9 134.5 437.8 135.0 438.3 135.5 438.7 136.0 438.5 136.5 439.6 137.0 438.5 137.5 438.8 138.0 439.5 138.5 439.5 139.0 439.1 139.5 440.2 140.0 439.5 140.5 439.8 141.0 439.7 141.5 439.7 142.0 439.9 142.5 440.2 143.0 439.7 143.5 438.6 144.0 439.5 144.5 438.7 145.0 439.1 145.5 438.8 146.0 439.6 146.5 438.9 147.0 437.6 147.5 438.7 148.0 437.7 148.5 438.8 149.0 438.7 149.5 438.7 150.0 438.8 150.5 438.3 151.0 439.6 151.5 438.3 152.0 438.4 152.5 438.9 153.0 438.3 153.5 438.3 154.0 437.8 154.5 439.6 155.0 438.2 155.5 438.6 156.0 438.8 156.5 438.9 157.0 438.5 157.5 438.5 158.0 438.2 158.5 436.5 159.0 436.8 159.5 433.8 160.0 430.4 160.5 425.3 160.9 423.6 161.0 422.4 161.5 427.9 162.0 432.3 162.5 437.2 163.0 436.8 163.5 439.0 164.0 438.8 164.5 439.4 165.0 438.7 165.5 439.1 166.0 439.1 166.5 439.3 167.0 439.4 167.5 439.5 168.0 439.5 168.5 439.2 169.0 439.2 169.5 439.6 170.0 439.0 170.5 439.4 171.0 439.1 171.5 438.0 172.0 438.1 172.5 437.6 173.0 437.9 173.5 438.7 174.0 438.9 174.5 439.6 175.0 439.8 175.5 439.9 176.0 439.3 176.5 440.1 177.0 440.2 177.5 440.2 178.0 439.6 178.5 439.8 179.0 439.7 179.5 439.5 180.0 439.8 180.5 439.7 181.0 440.0 181.5 439.8 182.0 439.6 182.5 438.4 183.0 437.6 183.5 439.1 184.0 438.5 184.5 438.2 185.0 438.2 185.5 437.3 186.0 436.4 186.5 435.1 187.0 433.7 187.5 429.3 188.0 424.5 188.5 416.4 189.0 407.2 189.5 399.8 189.9 397.7 190.0 397.1 190.5 401.9 191.0 411.3 191.5 419.7 192.0 426.4 192.5 430.6 193.0 434.2 193.5 435.7 194.0 436.0 194.5 435.1 195.0 436.6 195.5 437.5 196.0 437.1 196.5 438.1 197.0 437.7 197.5 436.8 198.0 438.7 198.5 438.3 199.0 438.1 199.5 438.5 200.0 438.7 200.5 437.4 201.0 437.7 201.5 436.1 202.0 435.3 202.5 434.3 203.0 435.8 203.5 435.6 204.0 437.5 204.5 438.6 205.0 438.4 205.5 438.3 206.0 438.6 206.5 439.1 207.0 439.3 207.5 438.6 208.0 438.7 208.5 439.5 209.0 438.4 209.5 438.0 210.0 437.8 210.5 437.6 211.0 436.6 211.5 438.1 212.0 437.6 212.5 438.1 213.0 437.5 213.5 438.5 214.0 439.7 214.5 438.6 215.0 439.6 215.5 439.2 216.0 439.2 216.5 439.4 217.0 439.3 217.5 438.4 218.0 439.2 218.5 439.0 219.0 438.7 219.5 438.8 220.0 438.4 220.5 440.1 221.0 438.3 221.5 438.2 222.0 437.8 222.5 437.3 223.0 437.4 223.5 437.3 224.0 435.9 224.5 434.6 225.0 435.1 225.5 436.1 226.0 437.0 226.5 436.9 227.0 436.6 227.5 437.5 228.0 437.6 228.5 437.7 229.0 437.6 229.5 437.1 230.0 437.8 230.5 437.3 231.0 436.9 231.5 436.8 232.0 436.9 232.5 438.0 233.0 437.7 233.5 437.4 234.0 438.4 234.5 438.1 235.0 438.4 235.5 438.6 236.0 438.5 236.5 438.3 237.0 438.4 237.5 438.6 238.0 438.3 238.5 439.7 239.0 439.7 239.5 439.4 240.0 439.5 240.5 439.5 241.0 440.0 241.5 441.3 242.0 439.9 242.5 438.7 243.0 440.4 243.5 440.2 244.0 440.8 244.5 439.8 245.0 439.3 245.5 439.8 246.0 439.7 246.5 439.5 247.0 439.2 247.5 439.1 248.0 438.5 248.5 437.9 249.0 436.7 249.5 433.2 250.0 427.4 250.5 420.7 250.9 419.4 251.0 418.2 251.5 423.1 252.0 428.1 252.5 432.7 253.0 436.4 253.5 438.2 254.0 438.9 254.5 439.2 255.0 439.2 255.5 440.9 256.0 440.0 256.5 439.4 257.0 440.4 257.5 439.3 258.0 439.3 258.5 440.2 259.0 438.8 259.5 440.2 260.0 440.2 260.5 439.8 261.0 439.0 261.5 439.8 262.0 438.6 262.5 438.5 263.0 437.1 263.5 436.6 264.0 436.6 264.5 437.0 265.0 437.5 265.5 438.2 266.0 438.6 266.5 439.0 267.0 439.7 267.5 439.8 268.0 440.4 268.5 439.9 269.0 439.6 269.5 440.6 270.0 439.7 270.5 439.1 271.0 440.1 271.5 440.6 272.0 440.0 272.5 439.5 273.0 439.9 273.5 439.6 274.0 440.1 274.5 439.7 275.0 439.4 275.5 440.2 276.0 438.4 276.5 438.8 277.0 439.7 277.5 439.9 278.0 439.8 278.5 440.0 279.0 439.8 279.5 440.2 280.0 439.8 280.5 440.0 281.0 438.7 281.5 440.1 282.0 439.8 282.5 439.8 283.0 439.8 283.5 439.0 284.0 440.4 284.5 440.0 285.0 439.5 285.5 440.0 286.0 440.1 286.5 439.1 287.0 439.7 287.5 439.6 288.0 439.9 288.5 440.0 289.0 439.9 289.5 439.6 290.0 439.3 290.5 439.6 291.0 439.4 291.5 439.5 292.0 441.3 292.5 439.7 293.0 440.0 293.5 439.4 294.0 439.9 294.5 440.0 295.0 438.5 295.5 440.8 296.0 439.9 296.5 439.7 297.0 439.8 297.5 441.2 298.0 439.3 298.5 439.7 299.0 440.3 299.5 440.6 300.0 439.7 300.5 439.9 301.0 440.3 301.5 439.0 302.0 439.6 302.5 439.0 303.0 439.1 303.5 439.3 304.0 438.5 304.5 437.8 305.0 437.4 305.5 438.9 306.0 437.8 306.5 438.6 307.0 438.3 307.5 438.6 308.0 438.1 308.5 438.1 309.0 437.4 309.5 437.0 310.0 438.3 310.5 439.6 311.0 438.3 311.5 437.5 312.0 437.4 312.5 439.0 313.0 438.0 313.5 437.0 314.0 436.8 314.5 437.3 315.0 437.9 315.5 436.9 316.0 436.6 316.5 437.1 317.0 437.2 317.5 436.6 318.0 437.2 318.5 437.3 319.0 437.0 319.5 437.0 320.0 435.6 320.5 436.4 321.0 436.9 321.5 436.0 322.0 436.7 322.5 435.8 323.0 435.6 323.5 435.6 324.0 436.2 324.5 436.4 325.0 436.3 325.5 436.9 326.0 437.5 326.5 436.6 327.0 436.5 327.5 437.3 328.0 437.2 328.5 438.0 329.0 437.2 329.5 438.5 330.0 437.3 330.5 437.5 331.0 438.4 331.5 438.1 332.0 438.1 332.5 438.4 333.0 438.5 333.5 438.7 334.0 438.2 334.5 439.1 335.0 439.1 335.5 438.8 336.0 438.4 336.5 438.6 337.0 439.2 337.5 439.4 338.0 439.3 338.5 440.8 339.0 439.3 339.5 438.7 340.0 439.9 340.5 439.7 341.0 440.5 341.5 439.8 342.0 439.8 342.5 439.6 343.0 441.2 343.5 439.9 344.0 439.3 344.5 439.1 345.0 439.6 345.5 439.5 346.0 439.3 346.5 439.0 347.0 438.3 347.5 438.7 348.0 439.2 348.5 439.7 349.0 439.9 349.5 439.6 350.0 439.0 350.5 438.2 351.0 438.2 351.5 438.3 352.0 438.3 352.5 438.6 353.0 437.4 353.5 438.2 354.0 437.3 354.5 434.4 355.0 434.2 355.5 430.6 355.9 430.4 356.0 430.3 356.5 432.1 357.0 433.0 357.5 435.0 358.0 436.5 358.5 437.3 359.0 437.3 359.5 437.6 360.0 437.9 360.5 438.4 361.0 438.8 361.5 437.2 362.0 437.7 362.5 438.4 363.0 437.5 363.5 437.4 364.0 438.3 364.5 437.5 365.0 438.5 365.5 437.8 366.0 438.1 366.5 438.2 367.0 437.7 367.5 437.5 368.0 437.8 368.5 436.5 369.0 437.1 369.5 438.0 370.0 437.0 370.5 438.3 371.0 439.3 371.5 437.6 372.0 439.0 372.5 438.4 373.0 438.9 373.5 436.7 374.0 438.1 374.5 438.1 375.0 438.8 375.5 439.3 376.0 439.0 376.5 438.4 377.0 438.7 377.5 438.2 378.0 439.0 378.5 438.7 379.0 438.4 379.5 438.8 380.0 438.6 380.5 438.3 381.0 438.7 381.5 438.6 382.0 439.0 382.5 438.6 383.0 439.4 383.5 439.3 384.0 439.4 384.5 438.6 385.0 438.1 385.5 437.9 386.0 437.9 386.5 438.4 387.0 437.9 387.5 437.5 388.0 437.9 388.5 438.6 389.0 438.1 389.5 437.6 390.0 437.8 390.5 437.5 391.0 437.2 391.5 436.5 392.0 437.1 392.5 436.8 393.0 436.9 393.5 437.8 394.0 437.3 394.5 437.5 395.0 437.3 395.5 437.7 396.0 437.2 396.5 437.9 397.0 438.1 397.5 437.8 398.0 438.0 398.5 438.3 399.0 438.1 399.5 438.1 400.0 438.5 400.5 438.5 401.0 438.5 401.5 440.1 402.0 438.4 402.5 438.7 403.0 438.2 403.5 439.0 404.0 438.6 404.5 439.2 405.0 439.1 405.5 438.7 406.0 439.5 406.5 439.3 407.0 439.4 407.5 439.4 408.0 438.9 408.5 438.4 409.0 438.4 409.5 437.9 410.0 438.7 410.5 439.5 411.0 438.8 411.5 438.5 412.0 439.1 412.5 438.7 413.0 439.0 413.5 439.1 414.0 439.0 414.5 438.7 415.0 438.6 415.5 438.3 416.0 439.7 416.5 439.2 417.0 438.5 417.5 439.1 418.0 439.0 418.5 439.6 419.0 438.8 419.5 439.0 420.0 438.2 420.5 437.9 421.0 438.6 421.5 438.3 422.0 438.4 422.5 438.5 423.0 438.9 423.5 439.3 424.0 438.1 424.5 438.4 425.0 438.3 425.5 437.9 426.0 437.8 426.5 438.0 427.0 440.1 427.5 437.2 428.0 435.5 428.5 433.5 429.0 433.2 429.5 431.8 430.0 431.1 430.5 433.3 431.0 432.4 431.5 432.7 432.0 432.5 432.5 431.7 433.0 432.2 433.5 432.6 434.0 432.9 434.5 433.4 435.0 432.3 435.5 432.8 436.0 431.7 436.5 433.3 437.0 433.2 437.5 433.4 438.0 434.5 438.5 433.8 439.0 433.0 439.5 434.6 440.0 433.8 440.5 434.2 441.0 433.8 441.5 434.5 442.0 432.2 442.5 433.7 443.0 434.6 443.5 434.0 444.0 434.7 444.5 434.7 445.0 436.0 445.5 436.1 446.0 436.4 446.5 437.5 447.0 438.9 447.5 437.6 448.0 436.4 448.5 437.6 449.0 437.8 449.5 437.1 450.0 438.7 450.5 437.1 451.0 437.1 451.5 438.0 452.0 437.2 452.5 435.6 453.0 435.9 453.5 435.7 454.0 435.9 454.5 437.3 455.0 435.3 455.5 435.9 456.0 436.7 456.5 436.7 457.0 436.4 457.5 437.1 458.0 436.7 458.5 435.5 459.0 437.7 459.5 436.9 460.0 436.5 460.5 437.3 461.0 437.6 461.5 437.8 462.0 437.7 462.5 438.5 463.0 438.2 463.5 438.4 464.0 439.0 464.5 439.7 465.0 439.0 465.5 438.7 466.0 439.3 466.5 438.9 467.0 439.2 467.5 438.9 468.0 438.8 468.5 439.7 469.0 439.0 469.5 439.3 470.0 438.6 470.5 438.9 471.0 439.5 471.5 440.0 472.0 438.9 472.5 439.2 473.0 437.7 473.5 438.6 474.0 440.0 474.5 438.5 475.0 439.4 475.5 439.1 476.0 438.4 476.5 439.5 477.0 438.4 477.5 439.0 478.0 438.8 478.5 438.8 479.0 439.4 479.5 438.5 480.0 438.5 480.5 437.6 481.0 438.1 481.5 438.8 482.0 439.1 482.5 439.2 483.0 438.4 483.5 438.7 484.0 440.2 484.5 439.1 485.0 438.6 485.5 438.9 486.0 438.1 486.5 439.5 487.0 439.2 487.5 439.3 488.0 438.8 488.5 437.0 489.0 437.8 489.5 438.1 490.0 438.8 490.5 438.3 491.0 438.9 491.5 438.3 492.0 438.6 492.5 439.0 493.0 437.3 493.5 438.7 494.0 438.6 494.5 439.1 495.0 438.8 495.5 438.7 496.0 439.0 496.5 439.0 497.0 438.6 497.5 438.4 498.0 439.2 498.5 438.5 499.0 437.5 499.5 438.4 500.0 439.5 500.5 439.0 501.0 439.0 501.5 439.7 502.0 439.0 502.5 438.2 503.0 439.2 503.5 439.0 504.0 438.2 504.5 438.5 505.0 438.2 505.5 438.2 506.0 438.3 506.5 438.3 507.0 438.2 507.5 439.3 508.0 438.4 508.5 438.5 509.0 438.0 509.5 438.3 510.0 438.6 510.5 439.0 511.0 438.8 511.5 438.5 512.0 438.6 512.5 438.0 513.0 438.4 513.5 437.6 514.0 438.8 514.5 438.6 515.0 438.0 515.5 439.1 516.0 438.1 516.5 438.3 517.0 437.5 517.5 438.3 518.0 437.5 518.5 439.0 519.0 438.8 519.5 439.3 520.0 438.3 520.5 439.2 521.0 438.6 521.5 438.3 522.0 438.7 522.5 438.3 523.0 438.9 523.5 439.5 524.0 438.4 524.5 437.4 525.0 437.8 525.5 438.4 526.0 437.5 526.5 437.3 527.0 436.9 527.5 438.3 528.0 438.7 528.5 437.7 529.0 437.8 529.5 436.6 530.0 438.0 530.5 437.6 531.0 437.8 531.5 439.5 532.0 437.9 532.5 437.8 533.0 438.1 533.5 438.6 534.0 438.1 534.5 438.3 535.0 438.2 535.5 438.1 536.0 438.7 536.5 439.2 537.0 437.5 537.5 439.0 538.0 439.3 538.5 437.9 539.0 439.0 539.5 438.9 540.0 439.3 540.5 439.1 541.0 439.5 541.5 440.5 542.0 439.7 542.5 439.9 543.0 439.6 543.5 441.1 544.0 440.3 544.5 440.3 545.0 440.1 545.5 439.8 546.0 440.7 546.5 440.5 547.0 439.8 547.5 437.6 548.0 439.1 548.5 438.7 549.0 438.8 549.5 439.3 550.0 437.8 550.5 438.2 551.0 437.6 551.5 438.4 552.0 438.3 552.5 438.5 553.0 438.7 553.5 438.9 554.0 438.2 554.5 438.2 555.0 438.4 555.5 438.0 556.0 437.8 556.5 435.9 557.0 437.9 557.5 435.5 558.0 436.9 558.5 437.6 559.0 438.4 559.5 438.3 560.0 438.8 560.5 439.8 561.0 439.3 561.5 439.5 562.0 438.7 562.5 439.6 563.0 439.8 563.5 439.0 564.0 439.3 564.5 438.3 565.0 438.6 565.5 439.4 566.0 438.5 566.5 439.1 567.0 439.5 567.5 439.2 568.0 439.7 568.5 439.6 569.0 439.7 569.5 438.0 570.0 438.2 570.5 439.4 571.0 438.1 571.5 439.2 572.0 439.9 572.5 439.2 573.0 440.3 573.5 439.3 574.0 437.8 574.5 439.4 575.0 438.5 575.5 438.4 576.0 439.0 576.5 437.9 577.0 438.3 577.5 439.1 578.0 438.4 578.5 439.7 579.0 438.4 579.5 439.2 580.0 439.2 580.5 440.3 581.0 440.2 581.5 439.2 582.0 439.6 582.5 439.3 583.0 438.7 583.5 439.6 584.0 439.1 584.5 439.0 585.0 439.0 585.5 438.9 586.0 439.6 586.5 439.5 587.0 440.3 587.5 439.1 588.0 440.3 588.5 439.6 589.0 439.7 589.5 440.0 590.0 439.2 590.5 439.2 591.0 439.6 591.5 440.6 592.0 439.9 592.5 437.9 593.0 439.8 593.5 439.2 594.0 440.0 594.5 439.6 595.0 439.9 595.5 437.9 596.0 440.0 596.5 439.6 597.0 439.5 597.5 439.0 598.0 439.4 598.5 440.1 599.0 439.4 599.5 439.9 600.0 439.4 600.5 439.6 601.0 439.7 601.5 439.1 602.0 439.4 602.5 438.3 603.0 438.9 603.5 438.4 604.0 438.9 604.5 438.1 605.0 438.5 605.5 437.7 606.0 437.6 606.5 438.6 607.0 437.7 607.5 437.7 608.0 438.7 608.5 438.2 609.0 438.9 609.5 439.6 610.0 437.3 610.5 438.3 611.0 440.2 611.5 438.6 612.0 438.4 612.5 438.6 613.0 438.7 613.5 438.8 614.0 438.3 614.5 439.2 615.0 438.1 615.5 438.4 616.0 437.6 616.5 438.9 617.0 439.1 617.5 438.4 618.0 439.0 618.5 439.4 619.0 438.8 619.5 438.9 620.0 439.8 620.5 439.7 621.0 438.4 621.5 439.1 622.0 438.8 622.5 439.8 623.0 438.9 623.5 441.0 624.0 438.9 624.5 439.9 625.0 438.3 625.5 439.5 626.0 438.6 626.5 439.8 627.0 438.7 627.5 439.2 628.0 440.6 628.5 439.0 629.0 439.4 629.5 439.1 630.0 439.9 630.5 439.2 631.0 439.7 631.5 439.1 632.0 438.7 632.5 438.7 633.0 438.7 633.5 439.2 634.0 439.0 634.5 439.2 635.0 439.2 635.5 438.7 636.0 439.3 636.5 439.3 637.0 439.7 637.5 438.6 638.0 439.0 638.5 439.6 639.0 439.5 639.5 439.5 640.0 439.4 640.5 438.9 641.0 439.8 641.5 438.9 642.0 439.4 642.5 438.3 643.0 441.2 643.5 438.8 644.0 439.3 644.5 439.1 645.0 439.9 645.5 439.1 646.0 439.5 646.5 439.0 647.0 438.8 647.5 441.2 648.0 440.0 648.5 439.4 649.0 438.7 649.5 438.3 650.0 439.2 650.5 439.1 651.0 441.2 651.5 440.5 652.0 439.3 652.5 439.0 653.0 439.6 653.5 439.3 654.0 439.0 654.5 439.6 655.0 439.5 655.5 439.3 656.0 439.6 656.5 438.5 657.0 440.3 657.5 439.1 658.0 438.8 658.5 438.9 659.0 439.6 659.5 439.2 660.0 438.8 660.5 439.3 661.0 439.1 661.5 438.9 662.0 438.3 662.5 438.9 663.0 440.5 663.5 440.4 664.0 439.2 664.5 439.8 665.0 439.9 665.5 437.9 666.0 439.7 666.5 438.8 667.0 439.0 667.5 439.7 668.0 439.3 668.5 439.1 669.0 439.4 669.5 439.1 670.0 438.6 670.5 439.5 671.0 440.1 671.5 439.3 672.0 439.8 672.5 438.8 673.0 439.8 673.5 439.6 674.0 439.1 674.5 439.4 675.0 438.8 675.5 439.4 676.0 439.4 676.5 439.1 677.0 439.7 677.5 438.9 678.0 439.1 678.5 439.1 679.0 439.5 679.5 439.0 680.0 437.8 680.5 439.3 681.0 439.6 681.5 439.8 682.0 439.1 682.5 439.4 683.0 440.0 683.5 439.2 684.0 439.9 684.5 439.8 685.0 440.1 685.5 439.2 686.0 439.8 686.5 439.3 687.0 440.7 687.5 439.9 688.0 440.6 688.5 439.0 689.0 439.8 689.5 440.0 690.0 439.3 690.5 438.3 691.0 440.6 691.5 440.2 692.0 439.0 692.5 438.9 693.0 439.8 693.5 439.3 694.0 438.7 694.5 439.3 695.0 439.9 695.5 440.3 696.0 439.8 696.5 440.8 697.0 440.2 697.5 439.2 698.0 440.3 698.5 439.2 699.0 439.5 699.5 439.7 700.0 439.8 700.5 440.1 701.0 439.7 701.5 439.0 702.0 437.7 702.5 439.4 703.0 439.3 703.5 439.9 704.0 440.0 704.5 440.1 705.0 439.4 705.5 439.2 706.0 440.0 706.5 439.8" fill="none" stroke="#0d4596" stroke-width="3.1" stroke-linejoin="round" stroke-linecap="round"/>
<line x1="172.4" y1="92.68" x2="172.4" y2="450.11" stroke="#afafaf" stroke-width="4.2" stroke-linecap="round" stroke-dasharray="0 7.77"/>
<line x1="262.7" y1="90.98" x2="262.7" y2="448.41" stroke="#afafaf" stroke-width="4.2" stroke-linecap="round" stroke-dasharray="0 7.77"/>
<line x1="251.1" y1="152.24" x2="251.1" y2="447.51" stroke="#afafaf" stroke-width="4.2" stroke-linecap="round" stroke-dasharray="0 7.77"/>
<line x1="393.1" y1="114.39" x2="393.1" y2="448.51" stroke="#afafaf" stroke-width="4.2" stroke-linecap="round" stroke-dasharray="0 7.77"/>
<line x1="446.9" y1="114.79" x2="446.9" y2="448.91" stroke="#afafaf" stroke-width="4.2" stroke-linecap="round" stroke-dasharray="0 7.77"/>
<rect x="168.7" y="27.9" width="9.6" height="9.2" fill="none" stroke="#3366b0" stroke-width="1.05"/>
<rect x="258.1" y="72.5" width="9.4" height="9.3" fill="none" stroke="#3366b0" stroke-width="1.05"/>
<rect x="388.8" y="93.5" width="9.4" height="8.5" fill="none" stroke="#3366b0" stroke-width="1.05"/>
<rect x="442.9" y="97.8" width="9.5" height="8.8" fill="none" stroke="#3366b0" stroke-width="1.05"/>
<path d="M253.2 111.2 L258.4 120 L253.2 128.8 L248.0 120 Z" fill="none" stroke="#1f50a8" stroke-width="1.6"/>
<rect x="81.0" y="13.6" width="626.3" height="437.9" fill="none" stroke="#000" stroke-width="2.5"/>
<line x1="81.0" y1="451.5" x2="81.0" y2="458.6" stroke="#000" stroke-width="2.5"/>
<line x1="206.3" y1="451.5" x2="206.3" y2="458.6" stroke="#000" stroke-width="2.5"/>
<line x1="331.5" y1="451.5" x2="331.5" y2="458.6" stroke="#000" stroke-width="2.5"/>
<line x1="456.8" y1="451.5" x2="456.8" y2="458.6" stroke="#000" stroke-width="2.5"/>
<line x1="582.0" y1="451.5" x2="582.0" y2="458.6" stroke="#000" stroke-width="2.5"/>
<line x1="707.3" y1="451.5" x2="707.3" y2="458.6" stroke="#000" stroke-width="2.5"/>
<text x="82.0" y="501.7" font-size="31" text-anchor="middle">10</text>
<text x="205.5" y="501.7" font-size="31" text-anchor="middle">20</text>
<text x="331.5" y="501.7" font-size="31" text-anchor="middle">30</text>
<text x="456.5" y="501.7" font-size="31" text-anchor="middle">40</text>
<text x="582.0" y="501.7" font-size="31" text-anchor="middle">50</text>
<text x="706.7" y="501.7" font-size="31" text-anchor="middle">60</text>
<text transform="translate(394.3 555.3) scale(1 1.05)" font-size="35" text-anchor="middle">2 Theta (degree)</text>
<text transform="translate(43.3 232.4) rotate(-90) scale(1 1.05)" font-size="35" text-anchor="middle">Intensity (a.u.)</text>
<text x="625.6" y="117.7" font-size="24.4" fill="#000" textLength="73.7" lengthAdjust="spacingAndGlyphs">DMC-1</text>
<text x="613.8" y="168.6" font-size="24.4" fill="#8e8e8e" textLength="91.2" lengthAdjust="spacingAndGlyphs">DMC-Ac</text>
<text x="576.6" y="216.4" font-size="24.4" fill="#ff0000" textLength="129.6" lengthAdjust="spacingAndGlyphs">DMC-DMAc</text>
<text x="590.1" y="259.1" font-size="24.4" fill="#087308" textLength="113.2" lengthAdjust="spacingAndGlyphs">DMC-DMF</text>
<text x="569.3" y="317.8" font-size="24.4" fill="#0a0acc" textLength="134.6" lengthAdjust="spacingAndGlyphs">DMC-DMSO</text>
<text x="588.7" y="375.5" font-size="24.4" fill="#7b1f0a" textLength="114.0" lengthAdjust="spacingAndGlyphs">DMC-NMe</text>
<text x="588.7" y="428.9" font-size="24.4" fill="#0d4596" textLength="115.4" lengthAdjust="spacingAndGlyphs">DMC-NMP</text>
</svg>
</body></html>
